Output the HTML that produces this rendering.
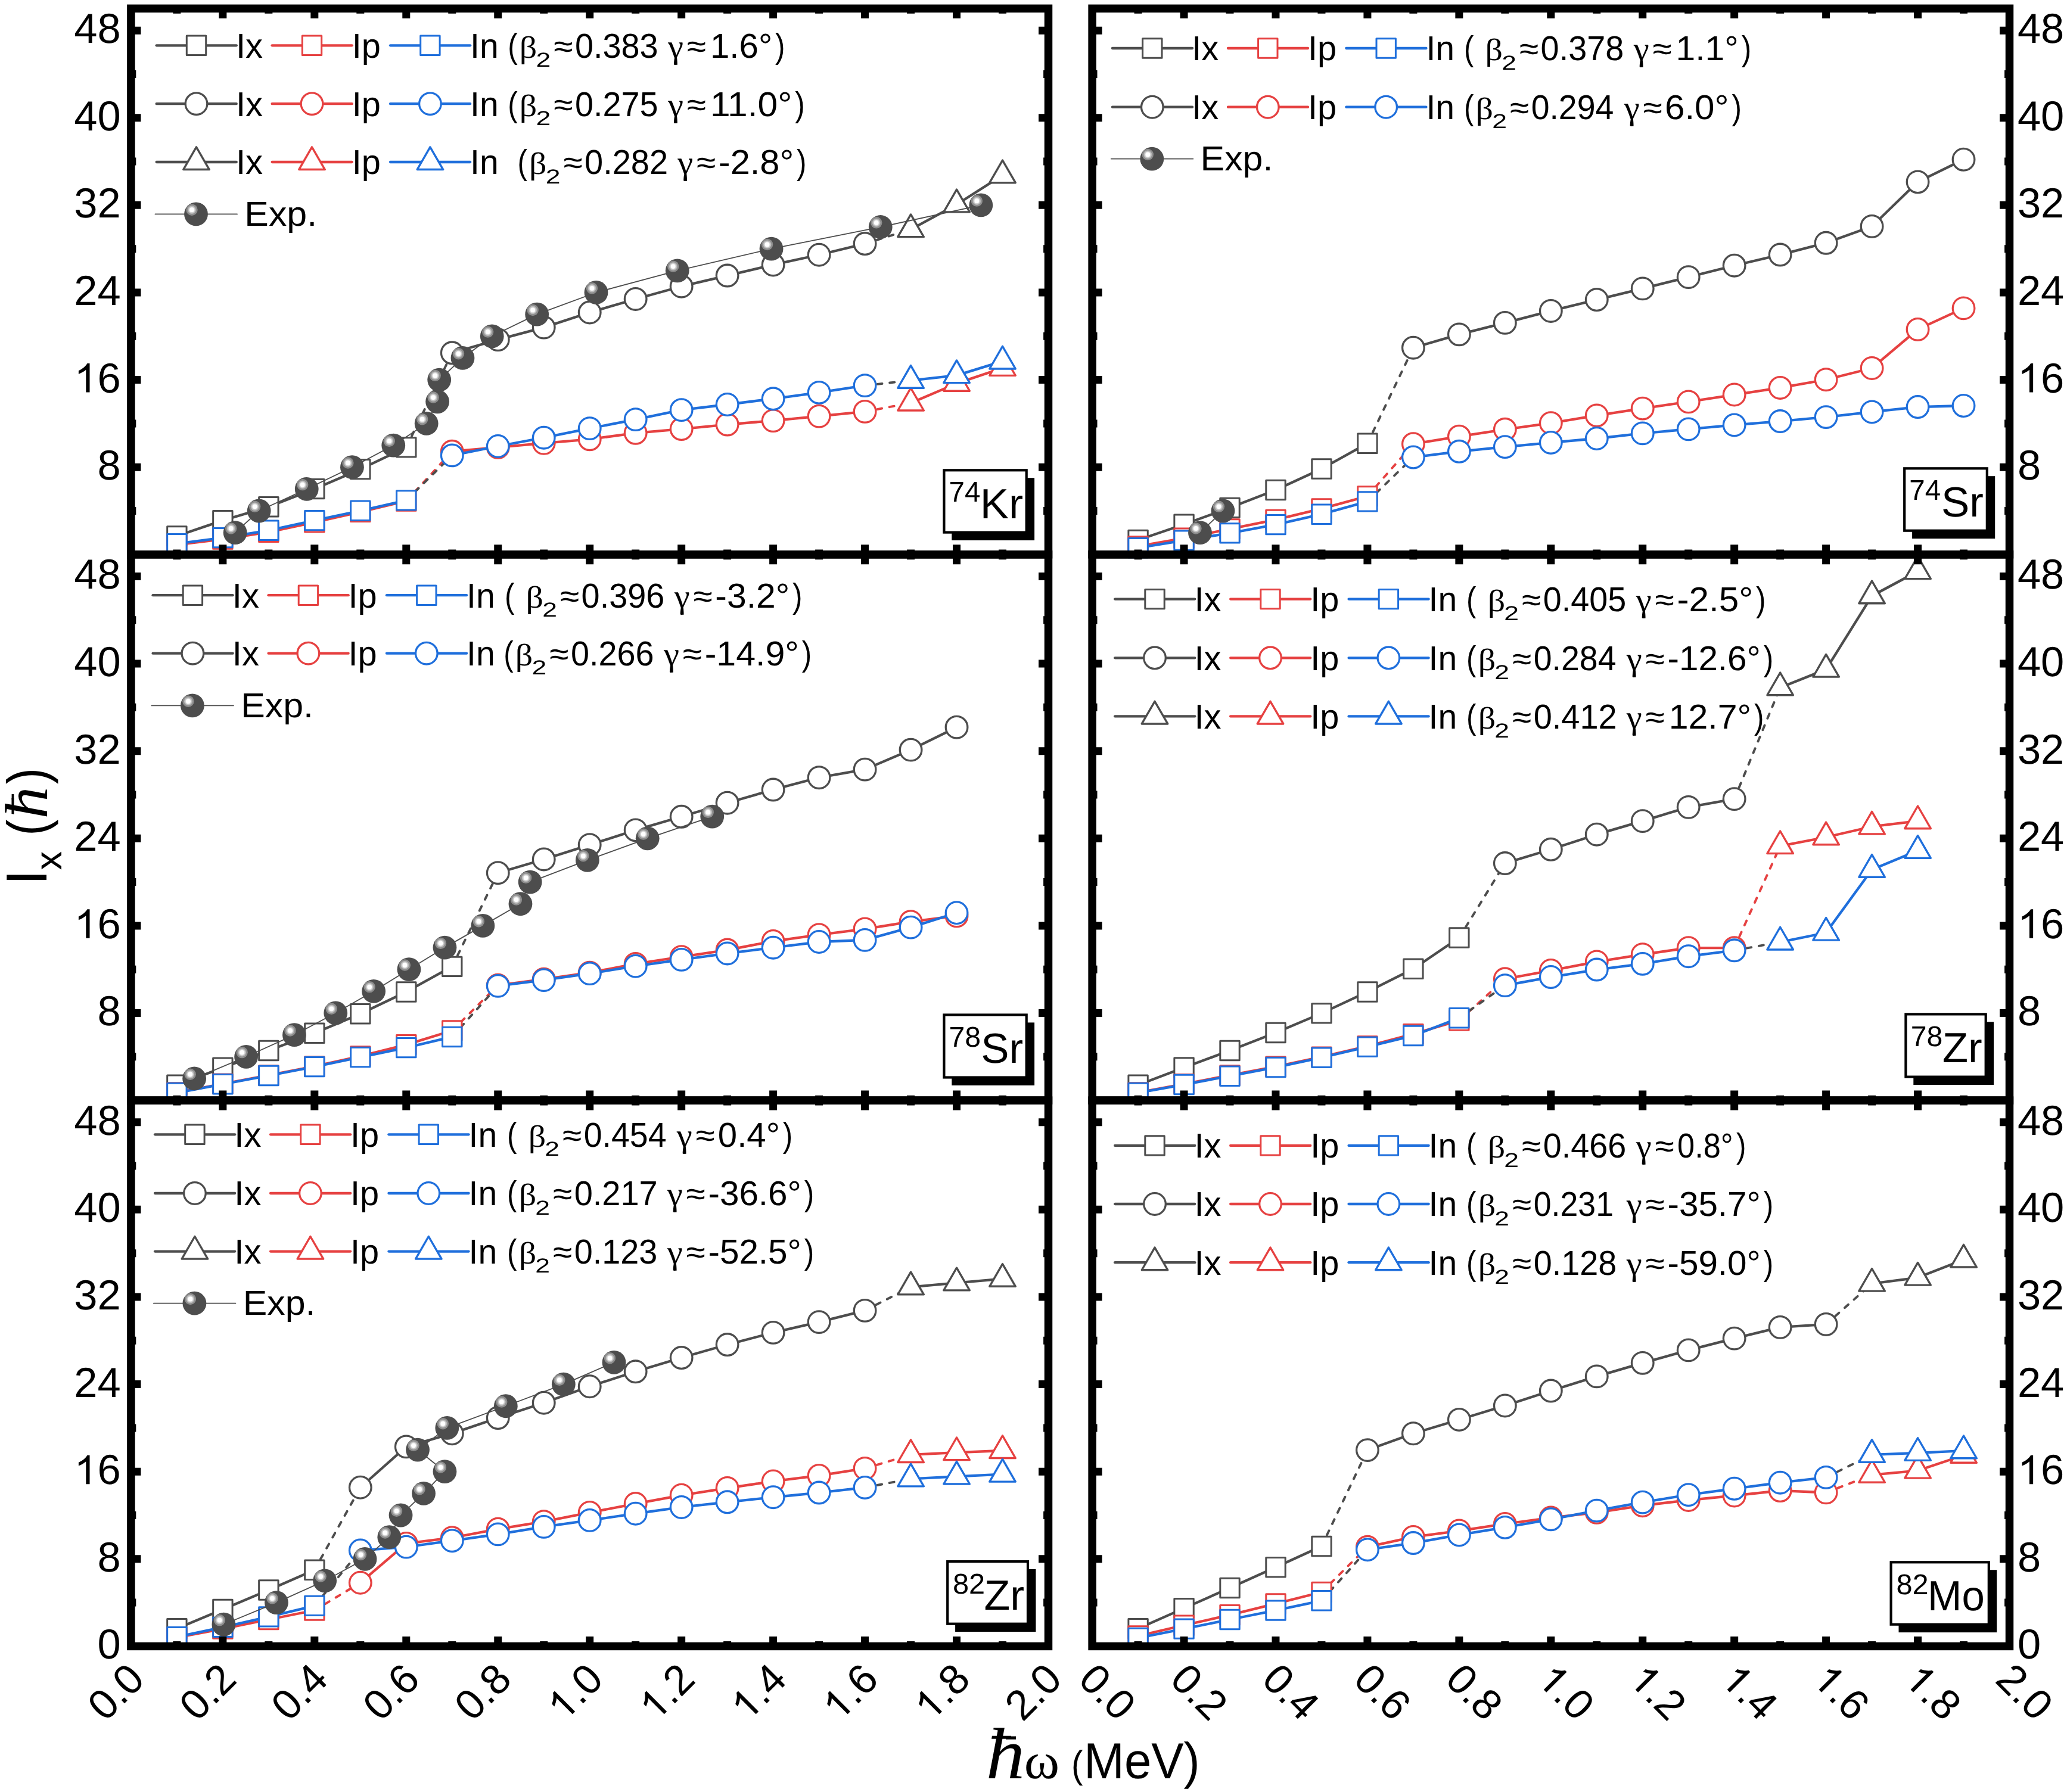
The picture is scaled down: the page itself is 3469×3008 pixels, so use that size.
<!DOCTYPE html>
<html><head><meta charset="utf-8"><title>Ix vs rotational frequency</title>
<style>html,body{margin:0;padding:0;background:#fff}svg{display:block;will-change:transform}text{font-family:"Liberation Sans",sans-serif;fill:#000;text-rendering:geometricPrecision}.se{font-family:"Liberation Serif",serif}</style></head><body>
<svg width="3469" height="3008" viewBox="0 0 3469 3008">
<rect width="3469" height="3008" fill="#fff"/>
<defs><g id="ball"><circle r="19.9" fill="#4d4d4d"/><circle cx="-7" cy="-7.2" r="9.7" fill="#8e8e8e"/><circle cx="-7" cy="-7.2" r="6.9" fill="#b9b9b9"/><circle cx="-7" cy="-7.2" r="5.3" fill="#d6d6d6"/><circle cx="-7" cy="-7.2" r="3.9" fill="#fff"/></g><path id="one0" d="M763 0L583 0L583 -1098Q518 -1039 412.5 -979Q307 -920 223 -890L223 -1057Q374 -1125 487 -1221Q600 -1318 647 -1409L763 -1409Z"/></defs>
<g id="series-74Kr">
<path d="M681.78 750.84L758.76 592.32" fill="none" stroke="#4d4d4d" stroke-width="3.9" stroke-linecap="round" stroke-linejoin="round" stroke-dasharray="8.2 12.7"/>
<path d="M681.78 841L758.76 757.8" fill="none" stroke="#e64141" stroke-width="3.9" stroke-linecap="round" stroke-linejoin="round" stroke-dasharray="8.2 12.7"/>
<path d="M681.78 839.9L758.76 764.4" fill="none" stroke="#4d4d4d" stroke-width="3.9" stroke-linecap="round" stroke-linejoin="round" stroke-dasharray="8.2 12.7"/>
<path d="M1451.58 409.06L1528.56 385.05" fill="none" stroke="#4d4d4d" stroke-width="3.9" stroke-linecap="round" stroke-linejoin="round" stroke-dasharray="8.2 12.7"/>
<path d="M1451.58 690.91L1528.56 676.44" fill="none" stroke="#e64141" stroke-width="3.9" stroke-linecap="round" stroke-linejoin="round" stroke-dasharray="8.2 12.7"/>
<path d="M1451.58 647.11L1528.56 638.68" fill="none" stroke="#4d4d4d" stroke-width="3.9" stroke-linecap="round" stroke-linejoin="round" stroke-dasharray="8.2 12.7"/>
<path d="M296.88 899.83L373.86 873.62L450.84 850.72L527.82 820.66L604.8 787.67L681.78 750.84" fill="none" stroke="#4d4d4d" stroke-width="4.3" stroke-linecap="round" stroke-linejoin="round"/>
<rect x="280.68" y="883.63" width="32.4" height="32.4" fill="#fff" stroke="#4d4d4d" stroke-width="3" stroke-linejoin="round"/><rect x="357.66" y="857.42" width="32.4" height="32.4" fill="#fff" stroke="#4d4d4d" stroke-width="3" stroke-linejoin="round"/><rect x="434.64" y="834.52" width="32.4" height="32.4" fill="#fff" stroke="#4d4d4d" stroke-width="3" stroke-linejoin="round"/><rect x="511.62" y="804.46" width="32.4" height="32.4" fill="#fff" stroke="#4d4d4d" stroke-width="3" stroke-linejoin="round"/><rect x="588.6" y="771.47" width="32.4" height="32.4" fill="#fff" stroke="#4d4d4d" stroke-width="3" stroke-linejoin="round"/><rect x="665.58" y="734.64" width="32.4" height="32.4" fill="#fff" stroke="#4d4d4d" stroke-width="3" stroke-linejoin="round"/>
<path d="M296.88 914.31L373.86 905.14L450.84 893.23L527.82 876.74L604.8 859.33L681.78 841" fill="none" stroke="#e64141" stroke-width="4.3" stroke-linecap="round" stroke-linejoin="round"/>
<rect x="280.68" y="898.11" width="32.4" height="32.4" fill="#fff" stroke="#e64141" stroke-width="3" stroke-linejoin="round"/><rect x="357.66" y="888.94" width="32.4" height="32.4" fill="#fff" stroke="#e64141" stroke-width="3" stroke-linejoin="round"/><rect x="434.64" y="877.03" width="32.4" height="32.4" fill="#fff" stroke="#e64141" stroke-width="3" stroke-linejoin="round"/><rect x="511.62" y="860.54" width="32.4" height="32.4" fill="#fff" stroke="#e64141" stroke-width="3" stroke-linejoin="round"/><rect x="588.6" y="843.13" width="32.4" height="32.4" fill="#fff" stroke="#e64141" stroke-width="3" stroke-linejoin="round"/><rect x="665.58" y="824.8" width="32.4" height="32.4" fill="#fff" stroke="#e64141" stroke-width="3" stroke-linejoin="round"/>
<path d="M296.88 912.66L373.86 902.58L450.84 890.3L527.82 873.62L604.8 857.31L681.78 839.9" fill="none" stroke="#1f6fdc" stroke-width="4.3" stroke-linecap="round" stroke-linejoin="round"/>
<rect x="280.68" y="896.46" width="32.4" height="32.4" fill="#fff" stroke="#1f6fdc" stroke-width="3" stroke-linejoin="round"/><rect x="357.66" y="886.38" width="32.4" height="32.4" fill="#fff" stroke="#1f6fdc" stroke-width="3" stroke-linejoin="round"/><rect x="434.64" y="874.1" width="32.4" height="32.4" fill="#fff" stroke="#1f6fdc" stroke-width="3" stroke-linejoin="round"/><rect x="511.62" y="857.42" width="32.4" height="32.4" fill="#fff" stroke="#1f6fdc" stroke-width="3" stroke-linejoin="round"/><rect x="588.6" y="841.11" width="32.4" height="32.4" fill="#fff" stroke="#1f6fdc" stroke-width="3" stroke-linejoin="round"/><rect x="665.58" y="823.7" width="32.4" height="32.4" fill="#fff" stroke="#1f6fdc" stroke-width="3" stroke-linejoin="round"/>
<path d="M758.76 592.32L835.74 570.14L912.72 549.62L989.7 524.51L1066.68 501.97L1143.66 480.71L1220.64 462.57L1297.62 444.43L1374.6 427.75L1451.58 409.06" fill="none" stroke="#4d4d4d" stroke-width="4.3" stroke-linecap="round" stroke-linejoin="round"/>
<circle cx="758.76" cy="592.32" r="18.3" fill="#fff" stroke="#4d4d4d" stroke-width="3.3"/><circle cx="835.74" cy="570.14" r="18.3" fill="#fff" stroke="#4d4d4d" stroke-width="3.3"/><circle cx="912.72" cy="549.62" r="18.3" fill="#fff" stroke="#4d4d4d" stroke-width="3.3"/><circle cx="989.7" cy="524.51" r="18.3" fill="#fff" stroke="#4d4d4d" stroke-width="3.3"/><circle cx="1066.68" cy="501.97" r="18.3" fill="#fff" stroke="#4d4d4d" stroke-width="3.3"/><circle cx="1143.66" cy="480.71" r="18.3" fill="#fff" stroke="#4d4d4d" stroke-width="3.3"/><circle cx="1220.64" cy="462.57" r="18.3" fill="#fff" stroke="#4d4d4d" stroke-width="3.3"/><circle cx="1297.62" cy="444.43" r="18.3" fill="#fff" stroke="#4d4d4d" stroke-width="3.3"/><circle cx="1374.6" cy="427.75" r="18.3" fill="#fff" stroke="#4d4d4d" stroke-width="3.3"/><circle cx="1451.58" cy="409.06" r="18.3" fill="#fff" stroke="#4d4d4d" stroke-width="3.3"/>
<path d="M758.76 757.8L835.74 750.84L912.72 743.87L989.7 737.28L1066.68 726.83L1143.66 720.05L1220.64 712.54L1297.62 706.12L1374.6 698.61L1451.58 690.91" fill="none" stroke="#e64141" stroke-width="4.3" stroke-linecap="round" stroke-linejoin="round"/>
<circle cx="758.76" cy="757.8" r="18.3" fill="#fff" stroke="#e64141" stroke-width="3.3"/><circle cx="835.74" cy="750.84" r="18.3" fill="#fff" stroke="#e64141" stroke-width="3.3"/><circle cx="912.72" cy="743.87" r="18.3" fill="#fff" stroke="#e64141" stroke-width="3.3"/><circle cx="989.7" cy="737.28" r="18.3" fill="#fff" stroke="#e64141" stroke-width="3.3"/><circle cx="1066.68" cy="726.83" r="18.3" fill="#fff" stroke="#e64141" stroke-width="3.3"/><circle cx="1143.66" cy="720.05" r="18.3" fill="#fff" stroke="#e64141" stroke-width="3.3"/><circle cx="1220.64" cy="712.54" r="18.3" fill="#fff" stroke="#e64141" stroke-width="3.3"/><circle cx="1297.62" cy="706.12" r="18.3" fill="#fff" stroke="#e64141" stroke-width="3.3"/><circle cx="1374.6" cy="698.61" r="18.3" fill="#fff" stroke="#e64141" stroke-width="3.3"/><circle cx="1451.58" cy="690.91" r="18.3" fill="#fff" stroke="#e64141" stroke-width="3.3"/>
<path d="M758.76 764.4L835.74 749.01L912.72 734.71L989.7 719.13L1066.68 704.11L1143.66 688.16L1220.64 679L1297.62 669.29L1374.6 658.84L1451.58 647.11" fill="none" stroke="#1f6fdc" stroke-width="4.3" stroke-linecap="round" stroke-linejoin="round"/>
<circle cx="758.76" cy="764.4" r="18.3" fill="#fff" stroke="#1f6fdc" stroke-width="3.3"/><circle cx="835.74" cy="749.01" r="18.3" fill="#fff" stroke="#1f6fdc" stroke-width="3.3"/><circle cx="912.72" cy="734.71" r="18.3" fill="#fff" stroke="#1f6fdc" stroke-width="3.3"/><circle cx="989.7" cy="719.13" r="18.3" fill="#fff" stroke="#1f6fdc" stroke-width="3.3"/><circle cx="1066.68" cy="704.11" r="18.3" fill="#fff" stroke="#1f6fdc" stroke-width="3.3"/><circle cx="1143.66" cy="688.16" r="18.3" fill="#fff" stroke="#1f6fdc" stroke-width="3.3"/><circle cx="1220.64" cy="679" r="18.3" fill="#fff" stroke="#1f6fdc" stroke-width="3.3"/><circle cx="1297.62" cy="669.29" r="18.3" fill="#fff" stroke="#1f6fdc" stroke-width="3.3"/><circle cx="1374.6" cy="658.84" r="18.3" fill="#fff" stroke="#1f6fdc" stroke-width="3.3"/><circle cx="1451.58" cy="647.11" r="18.3" fill="#fff" stroke="#1f6fdc" stroke-width="3.3"/>
<path d="M1528.56 385.05L1605.54 343.27L1682.52 294.15" fill="none" stroke="#4d4d4d" stroke-width="4.3" stroke-linecap="round" stroke-linejoin="round"/>
<path d="M1528.56 359.94L1550.31 397.61L1506.81 397.61Z" fill="#fff" stroke="#4d4d4d" stroke-width="3.4" stroke-linejoin="round"/><path d="M1605.54 318.15L1627.29 355.83L1583.79 355.83Z" fill="#fff" stroke="#4d4d4d" stroke-width="3.4" stroke-linejoin="round"/><path d="M1682.52 269.04L1704.27 306.71L1660.77 306.71Z" fill="#fff" stroke="#4d4d4d" stroke-width="3.4" stroke-linejoin="round"/>
<path d="M1528.56 676.44L1605.54 643.63L1682.52 617.79" fill="none" stroke="#e64141" stroke-width="4.3" stroke-linecap="round" stroke-linejoin="round"/>
<path d="M1528.56 651.32L1550.31 688.99L1506.81 688.99Z" fill="#fff" stroke="#e64141" stroke-width="3.4" stroke-linejoin="round"/><path d="M1605.54 618.52L1627.29 656.19L1583.79 656.19Z" fill="#fff" stroke="#e64141" stroke-width="3.4" stroke-linejoin="round"/><path d="M1682.52 592.68L1704.27 630.35L1660.77 630.35Z" fill="#fff" stroke="#e64141" stroke-width="3.4" stroke-linejoin="round"/>
<path d="M1528.56 638.68L1605.54 630.07L1682.52 606.43" fill="none" stroke="#1f6fdc" stroke-width="4.3" stroke-linecap="round" stroke-linejoin="round"/>
<path d="M1528.56 613.57L1550.31 651.24L1506.81 651.24Z" fill="#fff" stroke="#1f6fdc" stroke-width="3.4" stroke-linejoin="round"/><path d="M1605.54 604.96L1627.29 642.63L1583.79 642.63Z" fill="#fff" stroke="#1f6fdc" stroke-width="3.4" stroke-linejoin="round"/><path d="M1682.52 581.32L1704.27 618.99L1660.77 618.99Z" fill="#fff" stroke="#1f6fdc" stroke-width="3.4" stroke-linejoin="round"/>
<path d="M394.64 894.15L434.67 857.5L514.73 820.84L590.94 784.19L660.23 747.54L715.65 710.89L734.13 674.24L737.21 637.58L776.47 600.93L825.73 564.28L901.17 527.63L1000.48 490.98L1136.73 454.32L1294.54 417.67L1477.75 381.02L1646.34 344.37" fill="none" stroke="#4d4d4d" stroke-width="1.8" stroke-linecap="round" stroke-linejoin="round"/>
<use href="#ball" x="394.64" y="894.15"/><use href="#ball" x="434.67" y="857.5"/><use href="#ball" x="514.73" y="820.84"/><use href="#ball" x="590.94" y="784.19"/><use href="#ball" x="660.23" y="747.54"/><use href="#ball" x="715.65" y="710.89"/><use href="#ball" x="734.13" y="674.24"/><use href="#ball" x="737.21" y="637.58"/><use href="#ball" x="776.47" y="600.93"/><use href="#ball" x="825.73" y="564.28"/><use href="#ball" x="901.17" y="527.63"/><use href="#ball" x="1000.48" y="490.98"/><use href="#ball" x="1136.73" y="454.32"/><use href="#ball" x="1294.54" y="417.67"/><use href="#ball" x="1477.75" y="381.02"/><use href="#ball" x="1646.34" y="344.37"/>
</g>
<g id="series-74Sr">
<path d="M2294.92 744.24L2371.89 583.71" fill="none" stroke="#4d4d4d" stroke-width="3.9" stroke-linecap="round" stroke-linejoin="round" stroke-dasharray="8.2 12.7"/>
<path d="M2294.92 832.94L2371.89 745.16" fill="none" stroke="#e64141" stroke-width="3.9" stroke-linecap="round" stroke-linejoin="round" stroke-dasharray="8.2 12.7"/>
<path d="M2294.92 841.92L2371.89 767.52" fill="none" stroke="#4d4d4d" stroke-width="3.9" stroke-linecap="round" stroke-linejoin="round" stroke-dasharray="8.2 12.7"/>
<path d="M1910.07 906.43L1987.04 880.22L2064.01 852.36L2140.98 822.49L2217.95 786.94L2294.92 744.24" fill="none" stroke="#4d4d4d" stroke-width="4.3" stroke-linecap="round" stroke-linejoin="round"/>
<rect x="1893.87" y="890.23" width="32.4" height="32.4" fill="#fff" stroke="#4d4d4d" stroke-width="3" stroke-linejoin="round"/><rect x="1970.84" y="864.02" width="32.4" height="32.4" fill="#fff" stroke="#4d4d4d" stroke-width="3" stroke-linejoin="round"/><rect x="2047.81" y="836.16" width="32.4" height="32.4" fill="#fff" stroke="#4d4d4d" stroke-width="3" stroke-linejoin="round"/><rect x="2124.78" y="806.29" width="32.4" height="32.4" fill="#fff" stroke="#4d4d4d" stroke-width="3" stroke-linejoin="round"/><rect x="2201.75" y="770.74" width="32.4" height="32.4" fill="#fff" stroke="#4d4d4d" stroke-width="3" stroke-linejoin="round"/><rect x="2278.72" y="728.04" width="32.4" height="32.4" fill="#fff" stroke="#4d4d4d" stroke-width="3" stroke-linejoin="round"/>
<path d="M1910.07 916.87L1987.04 903.31L2064.01 887.92L2140.98 872.34L2217.95 853.83L2294.92 832.94" fill="none" stroke="#e64141" stroke-width="4.3" stroke-linecap="round" stroke-linejoin="round"/>
<rect x="1893.87" y="900.67" width="32.4" height="32.4" fill="#fff" stroke="#e64141" stroke-width="3" stroke-linejoin="round"/><rect x="1970.84" y="887.11" width="32.4" height="32.4" fill="#fff" stroke="#e64141" stroke-width="3" stroke-linejoin="round"/><rect x="2047.81" y="871.72" width="32.4" height="32.4" fill="#fff" stroke="#e64141" stroke-width="3" stroke-linejoin="round"/><rect x="2124.78" y="856.14" width="32.4" height="32.4" fill="#fff" stroke="#e64141" stroke-width="3" stroke-linejoin="round"/><rect x="2201.75" y="837.63" width="32.4" height="32.4" fill="#fff" stroke="#e64141" stroke-width="3" stroke-linejoin="round"/><rect x="2278.72" y="816.74" width="32.4" height="32.4" fill="#fff" stroke="#e64141" stroke-width="3" stroke-linejoin="round"/>
<path d="M1910.07 919.62L1987.04 907.16L2064.01 894.88L2140.98 880.59L2217.95 863.18L2294.92 841.92" fill="none" stroke="#1f6fdc" stroke-width="4.3" stroke-linecap="round" stroke-linejoin="round"/>
<rect x="1893.87" y="903.42" width="32.4" height="32.4" fill="#fff" stroke="#1f6fdc" stroke-width="3" stroke-linejoin="round"/><rect x="1970.84" y="890.96" width="32.4" height="32.4" fill="#fff" stroke="#1f6fdc" stroke-width="3" stroke-linejoin="round"/><rect x="2047.81" y="878.68" width="32.4" height="32.4" fill="#fff" stroke="#1f6fdc" stroke-width="3" stroke-linejoin="round"/><rect x="2124.78" y="864.39" width="32.4" height="32.4" fill="#fff" stroke="#1f6fdc" stroke-width="3" stroke-linejoin="round"/><rect x="2201.75" y="846.98" width="32.4" height="32.4" fill="#fff" stroke="#1f6fdc" stroke-width="3" stroke-linejoin="round"/><rect x="2278.72" y="825.72" width="32.4" height="32.4" fill="#fff" stroke="#1f6fdc" stroke-width="3" stroke-linejoin="round"/>
<path d="M2371.89 583.71L2448.86 561.35L2525.83 541.92L2602.8 521.95L2679.77 503.07L2756.74 484.38L2833.71 465.14L2910.68 445.71L2987.65 427.57L3064.62 407.78L3141.59 379.92L3218.56 305.33L3295.53 267.77" fill="none" stroke="#4d4d4d" stroke-width="4.3" stroke-linecap="round" stroke-linejoin="round"/>
<circle cx="2371.89" cy="583.71" r="18.3" fill="#fff" stroke="#4d4d4d" stroke-width="3.3"/><circle cx="2448.86" cy="561.35" r="18.3" fill="#fff" stroke="#4d4d4d" stroke-width="3.3"/><circle cx="2525.83" cy="541.92" r="18.3" fill="#fff" stroke="#4d4d4d" stroke-width="3.3"/><circle cx="2602.8" cy="521.95" r="18.3" fill="#fff" stroke="#4d4d4d" stroke-width="3.3"/><circle cx="2679.77" cy="503.07" r="18.3" fill="#fff" stroke="#4d4d4d" stroke-width="3.3"/><circle cx="2756.74" cy="484.38" r="18.3" fill="#fff" stroke="#4d4d4d" stroke-width="3.3"/><circle cx="2833.71" cy="465.14" r="18.3" fill="#fff" stroke="#4d4d4d" stroke-width="3.3"/><circle cx="2910.68" cy="445.71" r="18.3" fill="#fff" stroke="#4d4d4d" stroke-width="3.3"/><circle cx="2987.65" cy="427.57" r="18.3" fill="#fff" stroke="#4d4d4d" stroke-width="3.3"/><circle cx="3064.62" cy="407.78" r="18.3" fill="#fff" stroke="#4d4d4d" stroke-width="3.3"/><circle cx="3141.59" cy="379.92" r="18.3" fill="#fff" stroke="#4d4d4d" stroke-width="3.3"/><circle cx="3218.56" cy="305.33" r="18.3" fill="#fff" stroke="#4d4d4d" stroke-width="3.3"/><circle cx="3295.53" cy="267.77" r="18.3" fill="#fff" stroke="#4d4d4d" stroke-width="3.3"/>
<path d="M2371.89 745.16L2448.86 732.7L2525.83 720.78L2602.8 710.15L2679.77 697.33L2756.74 685.6L2833.71 674.42L2910.68 662.51L2987.65 650.96L3064.62 637.22L3141.59 617.98L3218.56 552.92L3295.53 517.37" fill="none" stroke="#e64141" stroke-width="4.3" stroke-linecap="round" stroke-linejoin="round"/>
<circle cx="2371.89" cy="745.16" r="18.3" fill="#fff" stroke="#e64141" stroke-width="3.3"/><circle cx="2448.86" cy="732.7" r="18.3" fill="#fff" stroke="#e64141" stroke-width="3.3"/><circle cx="2525.83" cy="720.78" r="18.3" fill="#fff" stroke="#e64141" stroke-width="3.3"/><circle cx="2602.8" cy="710.15" r="18.3" fill="#fff" stroke="#e64141" stroke-width="3.3"/><circle cx="2679.77" cy="697.33" r="18.3" fill="#fff" stroke="#e64141" stroke-width="3.3"/><circle cx="2756.74" cy="685.6" r="18.3" fill="#fff" stroke="#e64141" stroke-width="3.3"/><circle cx="2833.71" cy="674.42" r="18.3" fill="#fff" stroke="#e64141" stroke-width="3.3"/><circle cx="2910.68" cy="662.51" r="18.3" fill="#fff" stroke="#e64141" stroke-width="3.3"/><circle cx="2987.65" cy="650.96" r="18.3" fill="#fff" stroke="#e64141" stroke-width="3.3"/><circle cx="3064.62" cy="637.22" r="18.3" fill="#fff" stroke="#e64141" stroke-width="3.3"/><circle cx="3141.59" cy="617.98" r="18.3" fill="#fff" stroke="#e64141" stroke-width="3.3"/><circle cx="3218.56" cy="552.92" r="18.3" fill="#fff" stroke="#e64141" stroke-width="3.3"/><circle cx="3295.53" cy="517.37" r="18.3" fill="#fff" stroke="#e64141" stroke-width="3.3"/>
<path d="M2371.89 767.52L2448.86 757.8L2525.83 750.11L2602.8 742.96L2679.77 735.99L2756.74 727.38L2833.71 720.42L2910.68 713.45L2987.65 707.04L3064.62 700.08L3141.59 691.46L3218.56 683.03L3295.53 681.02" fill="none" stroke="#1f6fdc" stroke-width="4.3" stroke-linecap="round" stroke-linejoin="round"/>
<circle cx="2371.89" cy="767.52" r="18.3" fill="#fff" stroke="#1f6fdc" stroke-width="3.3"/><circle cx="2448.86" cy="757.8" r="18.3" fill="#fff" stroke="#1f6fdc" stroke-width="3.3"/><circle cx="2525.83" cy="750.11" r="18.3" fill="#fff" stroke="#1f6fdc" stroke-width="3.3"/><circle cx="2602.8" cy="742.96" r="18.3" fill="#fff" stroke="#1f6fdc" stroke-width="3.3"/><circle cx="2679.77" cy="735.99" r="18.3" fill="#fff" stroke="#1f6fdc" stroke-width="3.3"/><circle cx="2756.74" cy="727.38" r="18.3" fill="#fff" stroke="#1f6fdc" stroke-width="3.3"/><circle cx="2833.71" cy="720.42" r="18.3" fill="#fff" stroke="#1f6fdc" stroke-width="3.3"/><circle cx="2910.68" cy="713.45" r="18.3" fill="#fff" stroke="#1f6fdc" stroke-width="3.3"/><circle cx="2987.65" cy="707.04" r="18.3" fill="#fff" stroke="#1f6fdc" stroke-width="3.3"/><circle cx="3064.62" cy="700.08" r="18.3" fill="#fff" stroke="#1f6fdc" stroke-width="3.3"/><circle cx="3141.59" cy="691.46" r="18.3" fill="#fff" stroke="#1f6fdc" stroke-width="3.3"/><circle cx="3218.56" cy="683.03" r="18.3" fill="#fff" stroke="#1f6fdc" stroke-width="3.3"/><circle cx="3295.53" cy="681.02" r="18.3" fill="#fff" stroke="#1f6fdc" stroke-width="3.3"/>
<path d="M2013.98 894.15L2052.46 857.5" fill="none" stroke="#4d4d4d" stroke-width="1.8" stroke-linecap="round" stroke-linejoin="round"/>
<use href="#ball" x="2013.98" y="894.15"/><use href="#ball" x="2052.46" y="857.5"/>
</g>
<g id="series-78Sr">
<path d="M758.76 1622.42L835.74 1465.19" fill="none" stroke="#4d4d4d" stroke-width="3.9" stroke-linecap="round" stroke-linejoin="round" stroke-dasharray="8.2 12.7"/>
<path d="M758.76 1730L835.74 1653.76" fill="none" stroke="#e64141" stroke-width="3.9" stroke-linecap="round" stroke-linejoin="round" stroke-dasharray="8.2 12.7"/>
<path d="M758.76 1740.44L835.74 1654.86" fill="none" stroke="#4d4d4d" stroke-width="3.9" stroke-linecap="round" stroke-linejoin="round" stroke-dasharray="8.2 12.7"/>
<path d="M296.88 1821.26L373.86 1792.31L450.84 1763.53L527.82 1734.21L604.8 1701.77L681.78 1664.94L758.76 1622.42" fill="none" stroke="#4d4d4d" stroke-width="4.3" stroke-linecap="round" stroke-linejoin="round"/>
<rect x="280.68" y="1805.06" width="32.4" height="32.4" fill="#fff" stroke="#4d4d4d" stroke-width="3" stroke-linejoin="round"/><rect x="357.66" y="1776.11" width="32.4" height="32.4" fill="#fff" stroke="#4d4d4d" stroke-width="3" stroke-linejoin="round"/><rect x="434.64" y="1747.33" width="32.4" height="32.4" fill="#fff" stroke="#4d4d4d" stroke-width="3" stroke-linejoin="round"/><rect x="511.62" y="1718.01" width="32.4" height="32.4" fill="#fff" stroke="#4d4d4d" stroke-width="3" stroke-linejoin="round"/><rect x="588.6" y="1685.57" width="32.4" height="32.4" fill="#fff" stroke="#4d4d4d" stroke-width="3" stroke-linejoin="round"/><rect x="665.58" y="1648.74" width="32.4" height="32.4" fill="#fff" stroke="#4d4d4d" stroke-width="3" stroke-linejoin="round"/><rect x="742.56" y="1606.22" width="32.4" height="32.4" fill="#fff" stroke="#4d4d4d" stroke-width="3" stroke-linejoin="round"/>
<path d="M296.88 1833.91L373.86 1819.24L450.84 1804.95L527.82 1789.92L604.8 1772.88L681.78 1753.64L758.76 1730" fill="none" stroke="#e64141" stroke-width="4.3" stroke-linecap="round" stroke-linejoin="round"/>
<rect x="280.68" y="1817.71" width="32.4" height="32.4" fill="#fff" stroke="#e64141" stroke-width="3" stroke-linejoin="round"/><rect x="357.66" y="1803.04" width="32.4" height="32.4" fill="#fff" stroke="#e64141" stroke-width="3" stroke-linejoin="round"/><rect x="434.64" y="1788.75" width="32.4" height="32.4" fill="#fff" stroke="#e64141" stroke-width="3" stroke-linejoin="round"/><rect x="511.62" y="1773.72" width="32.4" height="32.4" fill="#fff" stroke="#e64141" stroke-width="3" stroke-linejoin="round"/><rect x="588.6" y="1756.68" width="32.4" height="32.4" fill="#fff" stroke="#e64141" stroke-width="3" stroke-linejoin="round"/><rect x="665.58" y="1737.44" width="32.4" height="32.4" fill="#fff" stroke="#e64141" stroke-width="3" stroke-linejoin="round"/><rect x="742.56" y="1713.8" width="32.4" height="32.4" fill="#fff" stroke="#e64141" stroke-width="3" stroke-linejoin="round"/>
<path d="M296.88 1834.46L373.86 1819.79L450.84 1805.5L527.82 1790.66L604.8 1774.53L681.78 1758.59L758.76 1740.44" fill="none" stroke="#1f6fdc" stroke-width="4.3" stroke-linecap="round" stroke-linejoin="round"/>
<rect x="280.68" y="1818.26" width="32.4" height="32.4" fill="#fff" stroke="#1f6fdc" stroke-width="3" stroke-linejoin="round"/><rect x="357.66" y="1803.59" width="32.4" height="32.4" fill="#fff" stroke="#1f6fdc" stroke-width="3" stroke-linejoin="round"/><rect x="434.64" y="1789.3" width="32.4" height="32.4" fill="#fff" stroke="#1f6fdc" stroke-width="3" stroke-linejoin="round"/><rect x="511.62" y="1774.46" width="32.4" height="32.4" fill="#fff" stroke="#1f6fdc" stroke-width="3" stroke-linejoin="round"/><rect x="588.6" y="1758.33" width="32.4" height="32.4" fill="#fff" stroke="#1f6fdc" stroke-width="3" stroke-linejoin="round"/><rect x="665.58" y="1742.39" width="32.4" height="32.4" fill="#fff" stroke="#1f6fdc" stroke-width="3" stroke-linejoin="round"/><rect x="742.56" y="1724.24" width="32.4" height="32.4" fill="#fff" stroke="#1f6fdc" stroke-width="3" stroke-linejoin="round"/>
<path d="M835.74 1465.19L912.72 1442.46L989.7 1418.09L1066.68 1393.35L1143.66 1370.81L1220.64 1347.72L1297.62 1325.54L1374.6 1305.2L1451.58 1291.64L1528.56 1258.65L1605.54 1220.72" fill="none" stroke="#4d4d4d" stroke-width="4.3" stroke-linecap="round" stroke-linejoin="round"/>
<circle cx="835.74" cy="1465.19" r="18.3" fill="#fff" stroke="#4d4d4d" stroke-width="3.3"/><circle cx="912.72" cy="1442.46" r="18.3" fill="#fff" stroke="#4d4d4d" stroke-width="3.3"/><circle cx="989.7" cy="1418.09" r="18.3" fill="#fff" stroke="#4d4d4d" stroke-width="3.3"/><circle cx="1066.68" cy="1393.35" r="18.3" fill="#fff" stroke="#4d4d4d" stroke-width="3.3"/><circle cx="1143.66" cy="1370.81" r="18.3" fill="#fff" stroke="#4d4d4d" stroke-width="3.3"/><circle cx="1220.64" cy="1347.72" r="18.3" fill="#fff" stroke="#4d4d4d" stroke-width="3.3"/><circle cx="1297.62" cy="1325.54" r="18.3" fill="#fff" stroke="#4d4d4d" stroke-width="3.3"/><circle cx="1374.6" cy="1305.2" r="18.3" fill="#fff" stroke="#4d4d4d" stroke-width="3.3"/><circle cx="1451.58" cy="1291.64" r="18.3" fill="#fff" stroke="#4d4d4d" stroke-width="3.3"/><circle cx="1528.56" cy="1258.65" r="18.3" fill="#fff" stroke="#4d4d4d" stroke-width="3.3"/><circle cx="1605.54" cy="1220.72" r="18.3" fill="#fff" stroke="#4d4d4d" stroke-width="3.3"/>
<path d="M835.74 1653.76L912.72 1643.68L989.7 1632.69L1066.68 1617.84L1143.66 1606.11L1220.64 1594.57L1297.62 1579.91L1374.6 1569.09L1451.58 1559.38L1528.56 1547.1L1605.54 1537.39" fill="none" stroke="#e64141" stroke-width="4.3" stroke-linecap="round" stroke-linejoin="round"/>
<circle cx="835.74" cy="1653.76" r="18.3" fill="#fff" stroke="#e64141" stroke-width="3.3"/><circle cx="912.72" cy="1643.68" r="18.3" fill="#fff" stroke="#e64141" stroke-width="3.3"/><circle cx="989.7" cy="1632.69" r="18.3" fill="#fff" stroke="#e64141" stroke-width="3.3"/><circle cx="1066.68" cy="1617.84" r="18.3" fill="#fff" stroke="#e64141" stroke-width="3.3"/><circle cx="1143.66" cy="1606.11" r="18.3" fill="#fff" stroke="#e64141" stroke-width="3.3"/><circle cx="1220.64" cy="1594.57" r="18.3" fill="#fff" stroke="#e64141" stroke-width="3.3"/><circle cx="1297.62" cy="1579.91" r="18.3" fill="#fff" stroke="#e64141" stroke-width="3.3"/><circle cx="1374.6" cy="1569.09" r="18.3" fill="#fff" stroke="#e64141" stroke-width="3.3"/><circle cx="1451.58" cy="1559.38" r="18.3" fill="#fff" stroke="#e64141" stroke-width="3.3"/><circle cx="1528.56" cy="1547.1" r="18.3" fill="#fff" stroke="#e64141" stroke-width="3.3"/><circle cx="1605.54" cy="1537.39" r="18.3" fill="#fff" stroke="#e64141" stroke-width="3.3"/>
<path d="M835.74 1654.86L912.72 1645.15L989.7 1634.15L1066.68 1621.69L1143.66 1610.88L1220.64 1600.43L1297.62 1590.72L1374.6 1581.01L1451.58 1577.89L1528.56 1556.63L1605.54 1532.26" fill="none" stroke="#1f6fdc" stroke-width="4.3" stroke-linecap="round" stroke-linejoin="round"/>
<circle cx="835.74" cy="1654.86" r="18.3" fill="#fff" stroke="#1f6fdc" stroke-width="3.3"/><circle cx="912.72" cy="1645.15" r="18.3" fill="#fff" stroke="#1f6fdc" stroke-width="3.3"/><circle cx="989.7" cy="1634.15" r="18.3" fill="#fff" stroke="#1f6fdc" stroke-width="3.3"/><circle cx="1066.68" cy="1621.69" r="18.3" fill="#fff" stroke="#1f6fdc" stroke-width="3.3"/><circle cx="1143.66" cy="1610.88" r="18.3" fill="#fff" stroke="#1f6fdc" stroke-width="3.3"/><circle cx="1220.64" cy="1600.43" r="18.3" fill="#fff" stroke="#1f6fdc" stroke-width="3.3"/><circle cx="1297.62" cy="1590.72" r="18.3" fill="#fff" stroke="#1f6fdc" stroke-width="3.3"/><circle cx="1374.6" cy="1581.01" r="18.3" fill="#fff" stroke="#1f6fdc" stroke-width="3.3"/><circle cx="1451.58" cy="1577.89" r="18.3" fill="#fff" stroke="#1f6fdc" stroke-width="3.3"/><circle cx="1528.56" cy="1556.63" r="18.3" fill="#fff" stroke="#1f6fdc" stroke-width="3.3"/><circle cx="1605.54" cy="1532.26" r="18.3" fill="#fff" stroke="#1f6fdc" stroke-width="3.3"/>
<path d="M326.13 1810.45L413.12 1773.8L493.95 1737.14L563.23 1700.49L627.12 1663.84L686.4 1627.19L746.44 1590.54L810.34 1553.88L873.46 1517.23L889.63 1480.58L985.85 1443.93L1086.69 1407.28L1195.24 1370.62" fill="none" stroke="#4d4d4d" stroke-width="1.8" stroke-linecap="round" stroke-linejoin="round"/>
<use href="#ball" x="326.13" y="1810.45"/><use href="#ball" x="413.12" y="1773.8"/><use href="#ball" x="493.95" y="1737.14"/><use href="#ball" x="563.23" y="1700.49"/><use href="#ball" x="627.12" y="1663.84"/><use href="#ball" x="686.4" y="1627.19"/><use href="#ball" x="746.44" y="1590.54"/><use href="#ball" x="810.34" y="1553.88"/><use href="#ball" x="873.46" y="1517.23"/><use href="#ball" x="889.63" y="1480.58"/><use href="#ball" x="985.85" y="1443.93"/><use href="#ball" x="1086.69" y="1407.28"/><use href="#ball" x="1195.24" y="1370.62"/>
</g>
<g id="series-78Zr">
<path d="M2448.86 1574.04L2525.83 1449.06" fill="none" stroke="#4d4d4d" stroke-width="3.9" stroke-linecap="round" stroke-linejoin="round" stroke-dasharray="8.2 12.7"/>
<path d="M2448.86 1712.95L2525.83 1643.31" fill="none" stroke="#e64141" stroke-width="3.9" stroke-linecap="round" stroke-linejoin="round" stroke-dasharray="8.2 12.7"/>
<path d="M2448.86 1708.74L2525.83 1654.13" fill="none" stroke="#4d4d4d" stroke-width="3.9" stroke-linecap="round" stroke-linejoin="round" stroke-dasharray="8.2 12.7"/>
<path d="M2910.68 1341.12L2987.65 1154.19" fill="none" stroke="#4d4d4d" stroke-width="3.9" stroke-linecap="round" stroke-linejoin="round" stroke-dasharray="8.2 12.7"/>
<path d="M2910.68 1591.09L2987.65 1420.1" fill="none" stroke="#e64141" stroke-width="3.9" stroke-linecap="round" stroke-linejoin="round" stroke-dasharray="8.2 12.7"/>
<path d="M2910.68 1595.3L2987.65 1581.37" fill="none" stroke="#4d4d4d" stroke-width="3.9" stroke-linecap="round" stroke-linejoin="round" stroke-dasharray="8.2 12.7"/>
<path d="M1910.07 1821.26L1987.04 1791.94L2064.01 1763.53L2140.98 1733.48L2217.95 1700.86L2294.92 1664.94L2371.89 1626.27L2448.86 1574.04" fill="none" stroke="#4d4d4d" stroke-width="4.3" stroke-linecap="round" stroke-linejoin="round"/>
<rect x="1893.87" y="1805.06" width="32.4" height="32.4" fill="#fff" stroke="#4d4d4d" stroke-width="3" stroke-linejoin="round"/><rect x="1970.84" y="1775.74" width="32.4" height="32.4" fill="#fff" stroke="#4d4d4d" stroke-width="3" stroke-linejoin="round"/><rect x="2047.81" y="1747.33" width="32.4" height="32.4" fill="#fff" stroke="#4d4d4d" stroke-width="3" stroke-linejoin="round"/><rect x="2124.78" y="1717.28" width="32.4" height="32.4" fill="#fff" stroke="#4d4d4d" stroke-width="3" stroke-linejoin="round"/><rect x="2201.75" y="1684.66" width="32.4" height="32.4" fill="#fff" stroke="#4d4d4d" stroke-width="3" stroke-linejoin="round"/><rect x="2278.72" y="1648.74" width="32.4" height="32.4" fill="#fff" stroke="#4d4d4d" stroke-width="3" stroke-linejoin="round"/><rect x="2355.69" y="1610.07" width="32.4" height="32.4" fill="#fff" stroke="#4d4d4d" stroke-width="3" stroke-linejoin="round"/><rect x="2432.66" y="1557.84" width="32.4" height="32.4" fill="#fff" stroke="#4d4d4d" stroke-width="3" stroke-linejoin="round"/>
<path d="M1910.07 1833.91L1987.04 1819.61L2064.01 1804.95L2140.98 1790.29L2217.95 1774.16L2294.92 1756.02L2371.89 1735.68L2448.86 1712.95" fill="none" stroke="#e64141" stroke-width="4.3" stroke-linecap="round" stroke-linejoin="round"/>
<rect x="1893.87" y="1817.71" width="32.4" height="32.4" fill="#fff" stroke="#e64141" stroke-width="3" stroke-linejoin="round"/><rect x="1970.84" y="1803.41" width="32.4" height="32.4" fill="#fff" stroke="#e64141" stroke-width="3" stroke-linejoin="round"/><rect x="2047.81" y="1788.75" width="32.4" height="32.4" fill="#fff" stroke="#e64141" stroke-width="3" stroke-linejoin="round"/><rect x="2124.78" y="1774.09" width="32.4" height="32.4" fill="#fff" stroke="#e64141" stroke-width="3" stroke-linejoin="round"/><rect x="2201.75" y="1757.96" width="32.4" height="32.4" fill="#fff" stroke="#e64141" stroke-width="3" stroke-linejoin="round"/><rect x="2278.72" y="1739.82" width="32.4" height="32.4" fill="#fff" stroke="#e64141" stroke-width="3" stroke-linejoin="round"/><rect x="2355.69" y="1719.48" width="32.4" height="32.4" fill="#fff" stroke="#e64141" stroke-width="3" stroke-linejoin="round"/><rect x="2432.66" y="1696.75" width="32.4" height="32.4" fill="#fff" stroke="#e64141" stroke-width="3" stroke-linejoin="round"/>
<path d="M1910.07 1834.46L1987.04 1820.53L2064.01 1806.23L2140.98 1791.57L2217.95 1775.26L2294.92 1757.12L2371.89 1738.43L2448.86 1708.74" fill="none" stroke="#1f6fdc" stroke-width="4.3" stroke-linecap="round" stroke-linejoin="round"/>
<rect x="1893.87" y="1818.26" width="32.4" height="32.4" fill="#fff" stroke="#1f6fdc" stroke-width="3" stroke-linejoin="round"/><rect x="1970.84" y="1804.33" width="32.4" height="32.4" fill="#fff" stroke="#1f6fdc" stroke-width="3" stroke-linejoin="round"/><rect x="2047.81" y="1790.03" width="32.4" height="32.4" fill="#fff" stroke="#1f6fdc" stroke-width="3" stroke-linejoin="round"/><rect x="2124.78" y="1775.37" width="32.4" height="32.4" fill="#fff" stroke="#1f6fdc" stroke-width="3" stroke-linejoin="round"/><rect x="2201.75" y="1759.06" width="32.4" height="32.4" fill="#fff" stroke="#1f6fdc" stroke-width="3" stroke-linejoin="round"/><rect x="2278.72" y="1740.92" width="32.4" height="32.4" fill="#fff" stroke="#1f6fdc" stroke-width="3" stroke-linejoin="round"/><rect x="2355.69" y="1722.23" width="32.4" height="32.4" fill="#fff" stroke="#1f6fdc" stroke-width="3" stroke-linejoin="round"/><rect x="2432.66" y="1692.54" width="32.4" height="32.4" fill="#fff" stroke="#1f6fdc" stroke-width="3" stroke-linejoin="round"/>
<path d="M2525.83 1449.06L2602.8 1425.79L2679.77 1400.68L2756.74 1378.14L2833.71 1354.86L2910.68 1341.12" fill="none" stroke="#4d4d4d" stroke-width="4.3" stroke-linecap="round" stroke-linejoin="round"/>
<circle cx="2525.83" cy="1449.06" r="18.3" fill="#fff" stroke="#4d4d4d" stroke-width="3.3"/><circle cx="2602.8" cy="1425.79" r="18.3" fill="#fff" stroke="#4d4d4d" stroke-width="3.3"/><circle cx="2679.77" cy="1400.68" r="18.3" fill="#fff" stroke="#4d4d4d" stroke-width="3.3"/><circle cx="2756.74" cy="1378.14" r="18.3" fill="#fff" stroke="#4d4d4d" stroke-width="3.3"/><circle cx="2833.71" cy="1354.86" r="18.3" fill="#fff" stroke="#4d4d4d" stroke-width="3.3"/><circle cx="2910.68" cy="1341.12" r="18.3" fill="#fff" stroke="#4d4d4d" stroke-width="3.3"/>
<path d="M2525.83 1643.31L2602.8 1629.02L2679.77 1614.36L2756.74 1602.08L2833.71 1591.09L2910.68 1591.09" fill="none" stroke="#e64141" stroke-width="4.3" stroke-linecap="round" stroke-linejoin="round"/>
<circle cx="2525.83" cy="1643.31" r="18.3" fill="#fff" stroke="#e64141" stroke-width="3.3"/><circle cx="2602.8" cy="1629.02" r="18.3" fill="#fff" stroke="#e64141" stroke-width="3.3"/><circle cx="2679.77" cy="1614.36" r="18.3" fill="#fff" stroke="#e64141" stroke-width="3.3"/><circle cx="2756.74" cy="1602.08" r="18.3" fill="#fff" stroke="#e64141" stroke-width="3.3"/><circle cx="2833.71" cy="1591.09" r="18.3" fill="#fff" stroke="#e64141" stroke-width="3.3"/><circle cx="2910.68" cy="1591.09" r="18.3" fill="#fff" stroke="#e64141" stroke-width="3.3"/>
<path d="M2525.83 1654.13L2602.8 1640.02L2679.77 1627.55L2756.74 1617.84L2833.71 1605.2L2910.68 1595.3" fill="none" stroke="#1f6fdc" stroke-width="4.3" stroke-linecap="round" stroke-linejoin="round"/>
<circle cx="2525.83" cy="1654.13" r="18.3" fill="#fff" stroke="#1f6fdc" stroke-width="3.3"/><circle cx="2602.8" cy="1640.02" r="18.3" fill="#fff" stroke="#1f6fdc" stroke-width="3.3"/><circle cx="2679.77" cy="1627.55" r="18.3" fill="#fff" stroke="#1f6fdc" stroke-width="3.3"/><circle cx="2756.74" cy="1617.84" r="18.3" fill="#fff" stroke="#1f6fdc" stroke-width="3.3"/><circle cx="2833.71" cy="1605.2" r="18.3" fill="#fff" stroke="#1f6fdc" stroke-width="3.3"/><circle cx="2910.68" cy="1595.3" r="18.3" fill="#fff" stroke="#1f6fdc" stroke-width="3.3"/>
<path d="M2987.65 1154.19L3064.62 1123.59L3141.59 1000.26L3218.56 959.02" fill="none" stroke="#4d4d4d" stroke-width="4.3" stroke-linecap="round" stroke-linejoin="round"/>
<path d="M2987.65 1129.08L3009.4 1166.75L2965.9 1166.75Z" fill="#fff" stroke="#4d4d4d" stroke-width="3.4" stroke-linejoin="round"/><path d="M3064.62 1098.47L3086.37 1136.15L3042.87 1136.15Z" fill="#fff" stroke="#4d4d4d" stroke-width="3.4" stroke-linejoin="round"/><path d="M3141.59 975.14L3163.34 1012.81L3119.84 1012.81Z" fill="#fff" stroke="#4d4d4d" stroke-width="3.4" stroke-linejoin="round"/><path d="M3218.56 933.91L3240.31 971.58L3196.81 971.58Z" fill="#fff" stroke="#4d4d4d" stroke-width="3.4" stroke-linejoin="round"/>
<path d="M2987.65 1420.1L3064.62 1405.26L3141.59 1387.48L3218.56 1378.14" fill="none" stroke="#e64141" stroke-width="4.3" stroke-linecap="round" stroke-linejoin="round"/>
<path d="M2987.65 1394.99L3009.4 1432.66L2965.9 1432.66Z" fill="#fff" stroke="#e64141" stroke-width="3.4" stroke-linejoin="round"/><path d="M3064.62 1380.15L3086.37 1417.82L3042.87 1417.82Z" fill="#fff" stroke="#e64141" stroke-width="3.4" stroke-linejoin="round"/><path d="M3141.59 1362.37L3163.34 1400.04L3119.84 1400.04Z" fill="#fff" stroke="#e64141" stroke-width="3.4" stroke-linejoin="round"/><path d="M3218.56 1353.02L3240.31 1390.7L3196.81 1390.7Z" fill="#fff" stroke="#e64141" stroke-width="3.4" stroke-linejoin="round"/>
<path d="M2987.65 1581.37L3064.62 1565.61L3141.59 1459.69L3218.56 1427.8" fill="none" stroke="#1f6fdc" stroke-width="4.3" stroke-linecap="round" stroke-linejoin="round"/>
<path d="M2987.65 1556.26L3009.4 1593.93L2965.9 1593.93Z" fill="#fff" stroke="#1f6fdc" stroke-width="3.4" stroke-linejoin="round"/><path d="M3064.62 1540.5L3086.37 1578.17L3042.87 1578.17Z" fill="#fff" stroke="#1f6fdc" stroke-width="3.4" stroke-linejoin="round"/><path d="M3141.59 1434.57L3163.34 1472.25L3119.84 1472.25Z" fill="#fff" stroke="#1f6fdc" stroke-width="3.4" stroke-linejoin="round"/><path d="M3218.56 1402.69L3240.31 1440.36L3196.81 1440.36Z" fill="#fff" stroke="#1f6fdc" stroke-width="3.4" stroke-linejoin="round"/>
</g>
<g id="series-82Zr">
<path d="M527.82 2635.3L604.8 2496.76" fill="none" stroke="#4d4d4d" stroke-width="3.9" stroke-linecap="round" stroke-linejoin="round" stroke-dasharray="8.2 12.7"/>
<path d="M527.82 2703.11L604.8 2656.74" fill="none" stroke="#e64141" stroke-width="3.9" stroke-linecap="round" stroke-linejoin="round" stroke-dasharray="8.2 12.7"/>
<path d="M527.82 2695.41L604.8 2602.5" fill="none" stroke="#4d4d4d" stroke-width="3.9" stroke-linecap="round" stroke-linejoin="round" stroke-dasharray="8.2 12.7"/>
<path d="M1451.58 2199.88L1528.56 2160.29" fill="none" stroke="#4d4d4d" stroke-width="3.9" stroke-linecap="round" stroke-linejoin="round" stroke-dasharray="8.2 12.7"/>
<path d="M1451.58 2464.87L1528.56 2441.96" fill="none" stroke="#e64141" stroke-width="3.9" stroke-linecap="round" stroke-linejoin="round" stroke-dasharray="8.2 12.7"/>
<path d="M1451.58 2496.94L1528.56 2482.28" fill="none" stroke="#4d4d4d" stroke-width="3.9" stroke-linecap="round" stroke-linejoin="round" stroke-dasharray="8.2 12.7"/>
<path d="M296.88 2733.71L373.86 2701.46L450.84 2669.02L527.82 2635.3" fill="none" stroke="#4d4d4d" stroke-width="4.3" stroke-linecap="round" stroke-linejoin="round"/>
<rect x="280.68" y="2717.51" width="32.4" height="32.4" fill="#fff" stroke="#4d4d4d" stroke-width="3" stroke-linejoin="round"/><rect x="357.66" y="2685.26" width="32.4" height="32.4" fill="#fff" stroke="#4d4d4d" stroke-width="3" stroke-linejoin="round"/><rect x="434.64" y="2652.82" width="32.4" height="32.4" fill="#fff" stroke="#4d4d4d" stroke-width="3" stroke-linejoin="round"/><rect x="511.62" y="2619.1" width="32.4" height="32.4" fill="#fff" stroke="#4d4d4d" stroke-width="3" stroke-linejoin="round"/>
<path d="M296.88 2748.74L373.86 2734.08L450.84 2718.5L527.82 2703.11" fill="none" stroke="#e64141" stroke-width="4.3" stroke-linecap="round" stroke-linejoin="round"/>
<rect x="280.68" y="2732.54" width="32.4" height="32.4" fill="#fff" stroke="#e64141" stroke-width="3" stroke-linejoin="round"/><rect x="357.66" y="2717.88" width="32.4" height="32.4" fill="#fff" stroke="#e64141" stroke-width="3" stroke-linejoin="round"/><rect x="434.64" y="2702.3" width="32.4" height="32.4" fill="#fff" stroke="#e64141" stroke-width="3" stroke-linejoin="round"/><rect x="511.62" y="2686.91" width="32.4" height="32.4" fill="#fff" stroke="#e64141" stroke-width="3" stroke-linejoin="round"/>
<path d="M296.88 2747.64L373.86 2731.33L450.84 2713.92L527.82 2695.41" fill="none" stroke="#1f6fdc" stroke-width="4.3" stroke-linecap="round" stroke-linejoin="round"/>
<rect x="280.68" y="2731.44" width="32.4" height="32.4" fill="#fff" stroke="#1f6fdc" stroke-width="3" stroke-linejoin="round"/><rect x="357.66" y="2715.13" width="32.4" height="32.4" fill="#fff" stroke="#1f6fdc" stroke-width="3" stroke-linejoin="round"/><rect x="434.64" y="2697.72" width="32.4" height="32.4" fill="#fff" stroke="#1f6fdc" stroke-width="3" stroke-linejoin="round"/><rect x="511.62" y="2679.21" width="32.4" height="32.4" fill="#fff" stroke="#1f6fdc" stroke-width="3" stroke-linejoin="round"/>
<path d="M604.8 2496.76L681.78 2428.4L758.76 2406.23L835.74 2380.02L912.72 2354.73L989.7 2327.24L1066.68 2302.32L1143.66 2279.04L1220.64 2257.05L1297.62 2236.89L1374.6 2219.12L1451.58 2199.88" fill="none" stroke="#4d4d4d" stroke-width="4.3" stroke-linecap="round" stroke-linejoin="round"/>
<circle cx="604.8" cy="2496.76" r="18.3" fill="#fff" stroke="#4d4d4d" stroke-width="3.3"/><circle cx="681.78" cy="2428.4" r="18.3" fill="#fff" stroke="#4d4d4d" stroke-width="3.3"/><circle cx="758.76" cy="2406.23" r="18.3" fill="#fff" stroke="#4d4d4d" stroke-width="3.3"/><circle cx="835.74" cy="2380.02" r="18.3" fill="#fff" stroke="#4d4d4d" stroke-width="3.3"/><circle cx="912.72" cy="2354.73" r="18.3" fill="#fff" stroke="#4d4d4d" stroke-width="3.3"/><circle cx="989.7" cy="2327.24" r="18.3" fill="#fff" stroke="#4d4d4d" stroke-width="3.3"/><circle cx="1066.68" cy="2302.32" r="18.3" fill="#fff" stroke="#4d4d4d" stroke-width="3.3"/><circle cx="1143.66" cy="2279.04" r="18.3" fill="#fff" stroke="#4d4d4d" stroke-width="3.3"/><circle cx="1220.64" cy="2257.05" r="18.3" fill="#fff" stroke="#4d4d4d" stroke-width="3.3"/><circle cx="1297.62" cy="2236.89" r="18.3" fill="#fff" stroke="#4d4d4d" stroke-width="3.3"/><circle cx="1374.6" cy="2219.12" r="18.3" fill="#fff" stroke="#4d4d4d" stroke-width="3.3"/><circle cx="1451.58" cy="2199.88" r="18.3" fill="#fff" stroke="#4d4d4d" stroke-width="3.3"/>
<path d="M604.8 2656.74L681.78 2590.95L758.76 2581.24L835.74 2566.58L912.72 2554.12L989.7 2538.91L1066.68 2524.06L1143.66 2509.77L1220.64 2497.86L1297.62 2486.49L1374.6 2476.96L1451.58 2464.87" fill="none" stroke="#e64141" stroke-width="4.3" stroke-linecap="round" stroke-linejoin="round"/>
<circle cx="604.8" cy="2656.74" r="18.3" fill="#fff" stroke="#e64141" stroke-width="3.3"/><circle cx="681.78" cy="2590.95" r="18.3" fill="#fff" stroke="#e64141" stroke-width="3.3"/><circle cx="758.76" cy="2581.24" r="18.3" fill="#fff" stroke="#e64141" stroke-width="3.3"/><circle cx="835.74" cy="2566.58" r="18.3" fill="#fff" stroke="#e64141" stroke-width="3.3"/><circle cx="912.72" cy="2554.12" r="18.3" fill="#fff" stroke="#e64141" stroke-width="3.3"/><circle cx="989.7" cy="2538.91" r="18.3" fill="#fff" stroke="#e64141" stroke-width="3.3"/><circle cx="1066.68" cy="2524.06" r="18.3" fill="#fff" stroke="#e64141" stroke-width="3.3"/><circle cx="1143.66" cy="2509.77" r="18.3" fill="#fff" stroke="#e64141" stroke-width="3.3"/><circle cx="1220.64" cy="2497.86" r="18.3" fill="#fff" stroke="#e64141" stroke-width="3.3"/><circle cx="1297.62" cy="2486.49" r="18.3" fill="#fff" stroke="#e64141" stroke-width="3.3"/><circle cx="1374.6" cy="2476.96" r="18.3" fill="#fff" stroke="#e64141" stroke-width="3.3"/><circle cx="1451.58" cy="2464.87" r="18.3" fill="#fff" stroke="#e64141" stroke-width="3.3"/>
<path d="M604.8 2602.5L681.78 2596.63L758.76 2586.19L835.74 2575.38L912.72 2562.91L989.7 2551.92L1066.68 2540.74L1143.66 2529.93L1220.64 2521.31L1297.62 2513.25L1374.6 2505.55L1451.58 2496.94" fill="none" stroke="#1f6fdc" stroke-width="4.3" stroke-linecap="round" stroke-linejoin="round"/>
<circle cx="604.8" cy="2602.5" r="18.3" fill="#fff" stroke="#1f6fdc" stroke-width="3.3"/><circle cx="681.78" cy="2596.63" r="18.3" fill="#fff" stroke="#1f6fdc" stroke-width="3.3"/><circle cx="758.76" cy="2586.19" r="18.3" fill="#fff" stroke="#1f6fdc" stroke-width="3.3"/><circle cx="835.74" cy="2575.38" r="18.3" fill="#fff" stroke="#1f6fdc" stroke-width="3.3"/><circle cx="912.72" cy="2562.91" r="18.3" fill="#fff" stroke="#1f6fdc" stroke-width="3.3"/><circle cx="989.7" cy="2551.92" r="18.3" fill="#fff" stroke="#1f6fdc" stroke-width="3.3"/><circle cx="1066.68" cy="2540.74" r="18.3" fill="#fff" stroke="#1f6fdc" stroke-width="3.3"/><circle cx="1143.66" cy="2529.93" r="18.3" fill="#fff" stroke="#1f6fdc" stroke-width="3.3"/><circle cx="1220.64" cy="2521.31" r="18.3" fill="#fff" stroke="#1f6fdc" stroke-width="3.3"/><circle cx="1297.62" cy="2513.25" r="18.3" fill="#fff" stroke="#1f6fdc" stroke-width="3.3"/><circle cx="1374.6" cy="2505.55" r="18.3" fill="#fff" stroke="#1f6fdc" stroke-width="3.3"/><circle cx="1451.58" cy="2496.94" r="18.3" fill="#fff" stroke="#1f6fdc" stroke-width="3.3"/>
<path d="M1528.56 2160.29L1605.54 2153.33L1682.52 2146.73" fill="none" stroke="#4d4d4d" stroke-width="4.3" stroke-linecap="round" stroke-linejoin="round"/>
<path d="M1528.56 2135.18L1550.31 2172.85L1506.81 2172.85Z" fill="#fff" stroke="#4d4d4d" stroke-width="3.4" stroke-linejoin="round"/><path d="M1605.54 2128.21L1627.29 2165.88L1583.79 2165.88Z" fill="#fff" stroke="#4d4d4d" stroke-width="3.4" stroke-linejoin="round"/><path d="M1682.52 2121.62L1704.27 2159.29L1660.77 2159.29Z" fill="#fff" stroke="#4d4d4d" stroke-width="3.4" stroke-linejoin="round"/>
<path d="M1528.56 2441.96L1605.54 2438.11L1682.52 2435" fill="none" stroke="#e64141" stroke-width="4.3" stroke-linecap="round" stroke-linejoin="round"/>
<path d="M1528.56 2416.85L1550.31 2454.52L1506.81 2454.52Z" fill="#fff" stroke="#e64141" stroke-width="3.4" stroke-linejoin="round"/><path d="M1605.54 2413L1627.29 2450.67L1583.79 2450.67Z" fill="#fff" stroke="#e64141" stroke-width="3.4" stroke-linejoin="round"/><path d="M1682.52 2409.88L1704.27 2447.56L1660.77 2447.56Z" fill="#fff" stroke="#e64141" stroke-width="3.4" stroke-linejoin="round"/>
<path d="M1528.56 2482.28L1605.54 2478.43L1682.52 2474.58" fill="none" stroke="#1f6fdc" stroke-width="4.3" stroke-linecap="round" stroke-linejoin="round"/>
<path d="M1528.56 2457.16L1550.31 2494.84L1506.81 2494.84Z" fill="#fff" stroke="#1f6fdc" stroke-width="3.4" stroke-linejoin="round"/><path d="M1605.54 2453.32L1627.29 2490.99L1583.79 2490.99Z" fill="#fff" stroke="#1f6fdc" stroke-width="3.4" stroke-linejoin="round"/><path d="M1682.52 2449.47L1704.27 2487.14L1660.77 2487.14Z" fill="#fff" stroke="#1f6fdc" stroke-width="3.4" stroke-linejoin="round"/>
<path d="M375.4 2726.75L463.93 2690.1L545.14 2653.44L612.5 2616.79L653.3 2580.14L672.54 2543.49L711.03 2506.84L746.44 2470.18L701.02 2433.53L750.29 2396.88L848.83 2360.23L945.82 2323.58L1030.5 2286.92" fill="none" stroke="#4d4d4d" stroke-width="1.8" stroke-linecap="round" stroke-linejoin="round"/>
<use href="#ball" x="375.4" y="2726.75"/><use href="#ball" x="463.93" y="2690.1"/><use href="#ball" x="545.14" y="2653.44"/><use href="#ball" x="612.5" y="2616.79"/><use href="#ball" x="653.3" y="2580.14"/><use href="#ball" x="672.54" y="2543.49"/><use href="#ball" x="711.03" y="2506.84"/><use href="#ball" x="746.44" y="2470.18"/><use href="#ball" x="701.02" y="2433.53"/><use href="#ball" x="750.29" y="2396.88"/><use href="#ball" x="848.83" y="2360.23"/><use href="#ball" x="945.82" y="2323.58"/><use href="#ball" x="1030.5" y="2286.92"/>
</g>
<g id="series-82Mo">
<path d="M2217.95 2595.53L2294.92 2434.08" fill="none" stroke="#4d4d4d" stroke-width="3.9" stroke-linecap="round" stroke-linejoin="round" stroke-dasharray="8.2 12.7"/>
<path d="M2217.95 2672.5L2294.92 2596.63" fill="none" stroke="#e64141" stroke-width="3.9" stroke-linecap="round" stroke-linejoin="round" stroke-dasharray="8.2 12.7"/>
<path d="M2217.95 2686.8L2294.92 2601.21" fill="none" stroke="#4d4d4d" stroke-width="3.9" stroke-linecap="round" stroke-linejoin="round" stroke-dasharray="8.2 12.7"/>
<path d="M3064.62 2222.97L3141.59 2154.61" fill="none" stroke="#4d4d4d" stroke-width="3.9" stroke-linecap="round" stroke-linejoin="round" stroke-dasharray="8.2 12.7"/>
<path d="M3064.62 2505.37L3141.59 2475.68" fill="none" stroke="#e64141" stroke-width="3.9" stroke-linecap="round" stroke-linejoin="round" stroke-dasharray="8.2 12.7"/>
<path d="M3064.62 2479.9L3141.59 2441.78" fill="none" stroke="#4d4d4d" stroke-width="3.9" stroke-linecap="round" stroke-linejoin="round" stroke-dasharray="8.2 12.7"/>
<path d="M1910.07 2733.71L1987.04 2699.63L2064.01 2665.54L2140.98 2630.72L2217.95 2595.53" fill="none" stroke="#4d4d4d" stroke-width="4.3" stroke-linecap="round" stroke-linejoin="round"/>
<rect x="1893.87" y="2717.51" width="32.4" height="32.4" fill="#fff" stroke="#4d4d4d" stroke-width="3" stroke-linejoin="round"/><rect x="1970.84" y="2683.43" width="32.4" height="32.4" fill="#fff" stroke="#4d4d4d" stroke-width="3" stroke-linejoin="round"/><rect x="2047.81" y="2649.34" width="32.4" height="32.4" fill="#fff" stroke="#4d4d4d" stroke-width="3" stroke-linejoin="round"/><rect x="2124.78" y="2614.52" width="32.4" height="32.4" fill="#fff" stroke="#4d4d4d" stroke-width="3" stroke-linejoin="round"/><rect x="2201.75" y="2579.33" width="32.4" height="32.4" fill="#fff" stroke="#4d4d4d" stroke-width="3" stroke-linejoin="round"/>
<path d="M1910.07 2745.99L1987.04 2728.21L2064.01 2710.8L2140.98 2691.93L2217.95 2672.5" fill="none" stroke="#e64141" stroke-width="4.3" stroke-linecap="round" stroke-linejoin="round"/>
<rect x="1893.87" y="2729.79" width="32.4" height="32.4" fill="#fff" stroke="#e64141" stroke-width="3" stroke-linejoin="round"/><rect x="1970.84" y="2712.01" width="32.4" height="32.4" fill="#fff" stroke="#e64141" stroke-width="3" stroke-linejoin="round"/><rect x="2047.81" y="2694.6" width="32.4" height="32.4" fill="#fff" stroke="#e64141" stroke-width="3" stroke-linejoin="round"/><rect x="2124.78" y="2675.73" width="32.4" height="32.4" fill="#fff" stroke="#e64141" stroke-width="3" stroke-linejoin="round"/><rect x="2201.75" y="2656.3" width="32.4" height="32.4" fill="#fff" stroke="#e64141" stroke-width="3" stroke-linejoin="round"/>
<path d="M1910.07 2749.47L1987.04 2734.08L2064.01 2718.5L2140.98 2703.11L2217.95 2686.8" fill="none" stroke="#1f6fdc" stroke-width="4.3" stroke-linecap="round" stroke-linejoin="round"/>
<rect x="1893.87" y="2733.27" width="32.4" height="32.4" fill="#fff" stroke="#1f6fdc" stroke-width="3" stroke-linejoin="round"/><rect x="1970.84" y="2717.88" width="32.4" height="32.4" fill="#fff" stroke="#1f6fdc" stroke-width="3" stroke-linejoin="round"/><rect x="2047.81" y="2702.3" width="32.4" height="32.4" fill="#fff" stroke="#1f6fdc" stroke-width="3" stroke-linejoin="round"/><rect x="2124.78" y="2686.91" width="32.4" height="32.4" fill="#fff" stroke="#1f6fdc" stroke-width="3" stroke-linejoin="round"/><rect x="2201.75" y="2670.6" width="32.4" height="32.4" fill="#fff" stroke="#1f6fdc" stroke-width="3" stroke-linejoin="round"/>
<path d="M2294.92 2434.08L2371.89 2406.23L2448.86 2382.95L2525.83 2359.49L2602.8 2334.57L2679.77 2310.38L2756.74 2287.84L2833.71 2266.4L2910.68 2246.61L2987.65 2227.91L3064.62 2222.97" fill="none" stroke="#4d4d4d" stroke-width="4.3" stroke-linecap="round" stroke-linejoin="round"/>
<circle cx="2294.92" cy="2434.08" r="18.3" fill="#fff" stroke="#4d4d4d" stroke-width="3.3"/><circle cx="2371.89" cy="2406.23" r="18.3" fill="#fff" stroke="#4d4d4d" stroke-width="3.3"/><circle cx="2448.86" cy="2382.95" r="18.3" fill="#fff" stroke="#4d4d4d" stroke-width="3.3"/><circle cx="2525.83" cy="2359.49" r="18.3" fill="#fff" stroke="#4d4d4d" stroke-width="3.3"/><circle cx="2602.8" cy="2334.57" r="18.3" fill="#fff" stroke="#4d4d4d" stroke-width="3.3"/><circle cx="2679.77" cy="2310.38" r="18.3" fill="#fff" stroke="#4d4d4d" stroke-width="3.3"/><circle cx="2756.74" cy="2287.84" r="18.3" fill="#fff" stroke="#4d4d4d" stroke-width="3.3"/><circle cx="2833.71" cy="2266.4" r="18.3" fill="#fff" stroke="#4d4d4d" stroke-width="3.3"/><circle cx="2910.68" cy="2246.61" r="18.3" fill="#fff" stroke="#4d4d4d" stroke-width="3.3"/><circle cx="2987.65" cy="2227.91" r="18.3" fill="#fff" stroke="#4d4d4d" stroke-width="3.3"/><circle cx="3064.62" cy="2222.97" r="18.3" fill="#fff" stroke="#4d4d4d" stroke-width="3.3"/>
<path d="M2294.92 2596.63L2371.89 2579.96L2448.86 2569.51L2525.83 2557.97L2602.8 2547.52L2679.77 2538.91L2756.74 2527.18L2833.71 2518.01L2910.68 2510.5L2987.65 2502.07L3064.62 2505.37" fill="none" stroke="#e64141" stroke-width="4.3" stroke-linecap="round" stroke-linejoin="round"/>
<circle cx="2294.92" cy="2596.63" r="18.3" fill="#fff" stroke="#e64141" stroke-width="3.3"/><circle cx="2371.89" cy="2579.96" r="18.3" fill="#fff" stroke="#e64141" stroke-width="3.3"/><circle cx="2448.86" cy="2569.51" r="18.3" fill="#fff" stroke="#e64141" stroke-width="3.3"/><circle cx="2525.83" cy="2557.97" r="18.3" fill="#fff" stroke="#e64141" stroke-width="3.3"/><circle cx="2602.8" cy="2547.52" r="18.3" fill="#fff" stroke="#e64141" stroke-width="3.3"/><circle cx="2679.77" cy="2538.91" r="18.3" fill="#fff" stroke="#e64141" stroke-width="3.3"/><circle cx="2756.74" cy="2527.18" r="18.3" fill="#fff" stroke="#e64141" stroke-width="3.3"/><circle cx="2833.71" cy="2518.01" r="18.3" fill="#fff" stroke="#e64141" stroke-width="3.3"/><circle cx="2910.68" cy="2510.5" r="18.3" fill="#fff" stroke="#e64141" stroke-width="3.3"/><circle cx="2987.65" cy="2502.07" r="18.3" fill="#fff" stroke="#e64141" stroke-width="3.3"/><circle cx="3064.62" cy="2505.37" r="18.3" fill="#fff" stroke="#e64141" stroke-width="3.3"/>
<path d="M2294.92 2601.21L2371.89 2590.04L2448.86 2576.47L2525.83 2563.83L2602.8 2550.27L2679.77 2535.61L2756.74 2521.68L2833.71 2509.22L2910.68 2498.77L2987.65 2488.69L3064.62 2479.9" fill="none" stroke="#1f6fdc" stroke-width="4.3" stroke-linecap="round" stroke-linejoin="round"/>
<circle cx="2294.92" cy="2601.21" r="18.3" fill="#fff" stroke="#1f6fdc" stroke-width="3.3"/><circle cx="2371.89" cy="2590.04" r="18.3" fill="#fff" stroke="#1f6fdc" stroke-width="3.3"/><circle cx="2448.86" cy="2576.47" r="18.3" fill="#fff" stroke="#1f6fdc" stroke-width="3.3"/><circle cx="2525.83" cy="2563.83" r="18.3" fill="#fff" stroke="#1f6fdc" stroke-width="3.3"/><circle cx="2602.8" cy="2550.27" r="18.3" fill="#fff" stroke="#1f6fdc" stroke-width="3.3"/><circle cx="2679.77" cy="2535.61" r="18.3" fill="#fff" stroke="#1f6fdc" stroke-width="3.3"/><circle cx="2756.74" cy="2521.68" r="18.3" fill="#fff" stroke="#1f6fdc" stroke-width="3.3"/><circle cx="2833.71" cy="2509.22" r="18.3" fill="#fff" stroke="#1f6fdc" stroke-width="3.3"/><circle cx="2910.68" cy="2498.77" r="18.3" fill="#fff" stroke="#1f6fdc" stroke-width="3.3"/><circle cx="2987.65" cy="2488.69" r="18.3" fill="#fff" stroke="#1f6fdc" stroke-width="3.3"/><circle cx="3064.62" cy="2479.9" r="18.3" fill="#fff" stroke="#1f6fdc" stroke-width="3.3"/>
<path d="M3141.59 2154.61L3218.56 2144.53L3295.53 2114.48" fill="none" stroke="#4d4d4d" stroke-width="4.3" stroke-linecap="round" stroke-linejoin="round"/>
<path d="M3141.59 2129.5L3163.34 2167.17L3119.84 2167.17Z" fill="#fff" stroke="#4d4d4d" stroke-width="3.4" stroke-linejoin="round"/><path d="M3218.56 2119.42L3240.31 2157.09L3196.81 2157.09Z" fill="#fff" stroke="#4d4d4d" stroke-width="3.4" stroke-linejoin="round"/><path d="M3295.53 2089.36L3317.28 2127.03L3273.78 2127.03Z" fill="#fff" stroke="#4d4d4d" stroke-width="3.4" stroke-linejoin="round"/>
<path d="M3141.59 2475.68L3218.56 2468.53L3295.53 2442.7" fill="none" stroke="#e64141" stroke-width="4.3" stroke-linecap="round" stroke-linejoin="round"/>
<path d="M3141.59 2450.57L3163.34 2488.24L3119.84 2488.24Z" fill="#fff" stroke="#e64141" stroke-width="3.4" stroke-linejoin="round"/><path d="M3218.56 2443.42L3240.31 2481.09L3196.81 2481.09Z" fill="#fff" stroke="#e64141" stroke-width="3.4" stroke-linejoin="round"/><path d="M3295.53 2417.58L3317.28 2455.25L3273.78 2455.25Z" fill="#fff" stroke="#e64141" stroke-width="3.4" stroke-linejoin="round"/>
<path d="M3141.59 2441.78L3218.56 2438.85L3295.53 2435.18" fill="none" stroke="#1f6fdc" stroke-width="4.3" stroke-linecap="round" stroke-linejoin="round"/>
<path d="M3141.59 2416.66L3163.34 2454.34L3119.84 2454.34Z" fill="#fff" stroke="#1f6fdc" stroke-width="3.4" stroke-linejoin="round"/><path d="M3218.56 2413.73L3240.31 2451.4L3196.81 2451.4Z" fill="#fff" stroke="#1f6fdc" stroke-width="3.4" stroke-linejoin="round"/><path d="M3295.53 2410.07L3317.28 2447.74L3273.78 2447.74Z" fill="#fff" stroke="#1f6fdc" stroke-width="3.4" stroke-linejoin="round"/>
</g>
<g id="legend-74Kr">
<path d="M262.65 76.3L396.75 76.3" fill="none" stroke="#4d4d4d" stroke-width="4.3" stroke-linecap="round" stroke-linejoin="round"/><rect x="313.3" y="60.1" width="32.4" height="32.4" fill="#fff" stroke="#4d4d4d" stroke-width="3" stroke-linejoin="round"/>
<text x="395.94" y="96.7" font-size="58" textLength="45.18" lengthAdjust="spacingAndGlyphs">Ix</text>
<path d="M456.65 76.3L590.75 76.3" fill="none" stroke="#e64141" stroke-width="4.3" stroke-linecap="round" stroke-linejoin="round"/><rect x="507.3" y="60.1" width="32.4" height="32.4" fill="#fff" stroke="#e64141" stroke-width="3" stroke-linejoin="round"/>
<text x="590.67" y="96.7" font-size="58" textLength="48.15" lengthAdjust="spacingAndGlyphs">Ip</text>
<path d="M655.05 76.3L789.15 76.3" fill="none" stroke="#1f6fdc" stroke-width="4.3" stroke-linecap="round" stroke-linejoin="round"/><rect x="705.7" y="60.1" width="32.4" height="32.4" fill="#fff" stroke="#1f6fdc" stroke-width="3" stroke-linejoin="round"/>
<text x="789.12" y="96.7" font-size="58" textLength="47.69" lengthAdjust="spacingAndGlyphs">In</text>
<text x="852.24" y="96.7" font-size="58" textLength="16.45" lengthAdjust="spacingAndGlyphs">(</text><text x="871.86" y="96.7" font-size="52" class="se" textLength="29.5" lengthAdjust="spacingAndGlyphs">&#946;</text><text x="899.56" y="111.9" font-size="34" textLength="24.78" lengthAdjust="spacingAndGlyphs">2</text><text x="929.2" y="95.7" font-size="53" textLength="32.21" lengthAdjust="spacingAndGlyphs">&#8776;</text><text x="964.92" y="96.7" font-size="58" textLength="139.63" lengthAdjust="spacingAndGlyphs">0.383</text><text x="1120.99" y="96.7" font-size="56" class="se" textLength="25.96" lengthAdjust="spacingAndGlyphs">&#947;</text><text x="1152.7" y="95.7" font-size="53" textLength="32.21" lengthAdjust="spacingAndGlyphs">&#8776;</text><text x="1191.96" y="96.7" font-size="58" textLength="104.23" lengthAdjust="spacingAndGlyphs">1.6&#176;</text><text x="1301.11" y="96.7" font-size="58" textLength="16.45" lengthAdjust="spacingAndGlyphs">)</text>
<path d="M262.65 174.2L396.75 174.2" fill="none" stroke="#4d4d4d" stroke-width="4.3" stroke-linecap="round" stroke-linejoin="round"/><circle cx="329.5" cy="174.2" r="18.3" fill="#fff" stroke="#4d4d4d" stroke-width="3.3"/>
<text x="395.94" y="194.6" font-size="58" textLength="45.18" lengthAdjust="spacingAndGlyphs">Ix</text>
<path d="M456.65 174.2L590.75 174.2" fill="none" stroke="#e64141" stroke-width="4.3" stroke-linecap="round" stroke-linejoin="round"/><circle cx="523.5" cy="174.2" r="18.3" fill="#fff" stroke="#e64141" stroke-width="3.3"/>
<text x="590.67" y="194.6" font-size="58" textLength="48.15" lengthAdjust="spacingAndGlyphs">Ip</text>
<path d="M655.05 174.2L789.15 174.2" fill="none" stroke="#1f6fdc" stroke-width="4.3" stroke-linecap="round" stroke-linejoin="round"/><circle cx="721.9" cy="174.2" r="18.3" fill="#fff" stroke="#1f6fdc" stroke-width="3.3"/>
<text x="789.12" y="194.6" font-size="58" textLength="47.69" lengthAdjust="spacingAndGlyphs">In</text>
<text x="852.24" y="194.6" font-size="58" textLength="16.45" lengthAdjust="spacingAndGlyphs">(</text><text x="871.86" y="194.6" font-size="52" class="se" textLength="29.5" lengthAdjust="spacingAndGlyphs">&#946;</text><text x="899.56" y="209.8" font-size="34" textLength="24.78" lengthAdjust="spacingAndGlyphs">2</text><text x="929.2" y="193.6" font-size="53" textLength="32.21" lengthAdjust="spacingAndGlyphs">&#8776;</text><text x="964.92" y="194.6" font-size="58" textLength="139.52" lengthAdjust="spacingAndGlyphs">0.275</text><text x="1120.99" y="194.6" font-size="56" class="se" textLength="25.96" lengthAdjust="spacingAndGlyphs">&#947;</text><text x="1152.7" y="193.6" font-size="53" textLength="32.21" lengthAdjust="spacingAndGlyphs">&#8776;</text><text x="1191.94" y="194.6" font-size="58" textLength="137.38" lengthAdjust="spacingAndGlyphs">11.0&#176;</text><text x="1334.21" y="194.6" font-size="58" textLength="16.45" lengthAdjust="spacingAndGlyphs">)</text>
<path d="M262.65 272L396.75 272" fill="none" stroke="#4d4d4d" stroke-width="4.3" stroke-linecap="round" stroke-linejoin="round"/><path d="M329.5 246.89L351.25 284.56L307.75 284.56Z" fill="#fff" stroke="#4d4d4d" stroke-width="3.4" stroke-linejoin="round"/>
<text x="395.94" y="292.4" font-size="58" textLength="45.18" lengthAdjust="spacingAndGlyphs">Ix</text>
<path d="M456.65 272L590.75 272" fill="none" stroke="#e64141" stroke-width="4.3" stroke-linecap="round" stroke-linejoin="round"/><path d="M523.5 246.89L545.25 284.56L501.75 284.56Z" fill="#fff" stroke="#e64141" stroke-width="3.4" stroke-linejoin="round"/>
<text x="590.67" y="292.4" font-size="58" textLength="48.15" lengthAdjust="spacingAndGlyphs">Ip</text>
<path d="M655.05 272L789.15 272" fill="none" stroke="#1f6fdc" stroke-width="4.3" stroke-linecap="round" stroke-linejoin="round"/><path d="M721.9 246.89L743.65 284.56L700.15 284.56Z" fill="#fff" stroke="#1f6fdc" stroke-width="3.4" stroke-linejoin="round"/>
<text x="789.12" y="292.4" font-size="58" textLength="47.69" lengthAdjust="spacingAndGlyphs">In</text>
<text x="868.44" y="292.4" font-size="58" textLength="16.45" lengthAdjust="spacingAndGlyphs">(</text><text x="888.06" y="292.4" font-size="52" class="se" textLength="29.5" lengthAdjust="spacingAndGlyphs">&#946;</text><text x="915.76" y="307.6" font-size="34" textLength="24.78" lengthAdjust="spacingAndGlyphs">2</text><text x="945.4" y="291.4" font-size="53" textLength="32.21" lengthAdjust="spacingAndGlyphs">&#8776;</text><text x="981.11" y="292.4" font-size="58" textLength="140" lengthAdjust="spacingAndGlyphs">0.282</text><text x="1137.19" y="292.4" font-size="56" class="se" textLength="25.96" lengthAdjust="spacingAndGlyphs">&#947;</text><text x="1168.9" y="291.4" font-size="53" textLength="32.21" lengthAdjust="spacingAndGlyphs">&#8776;</text><text x="1205.85" y="292.4" font-size="58" textLength="126.42" lengthAdjust="spacingAndGlyphs">-2.8&#176;</text><text x="1337.11" y="292.4" font-size="58" textLength="16.45" lengthAdjust="spacingAndGlyphs">)</text>
<path d="M260.5 359.4L398 359.4" fill="none" stroke="#4d4d4d" stroke-width="1.8" stroke-linecap="round" stroke-linejoin="round"/>
<use href="#ball" x="329" y="359.4"/>
<text x="410.31" y="379" font-size="58" textLength="121.75" lengthAdjust="spacingAndGlyphs">Exp.</text>
</g>
<g id="legend-74Sr">
<path d="M1866.95 81L2001.05 81" fill="none" stroke="#4d4d4d" stroke-width="4.3" stroke-linecap="round" stroke-linejoin="round"/><rect x="1917.6" y="64.8" width="32.4" height="32.4" fill="#fff" stroke="#4d4d4d" stroke-width="3" stroke-linejoin="round"/>
<text x="2000.24" y="101.4" font-size="58" textLength="45.18" lengthAdjust="spacingAndGlyphs">Ix</text>
<path d="M2060.95 81L2195.05 81" fill="none" stroke="#e64141" stroke-width="4.3" stroke-linecap="round" stroke-linejoin="round"/><rect x="2111.6" y="64.8" width="32.4" height="32.4" fill="#fff" stroke="#e64141" stroke-width="3" stroke-linejoin="round"/>
<text x="2194.97" y="101.4" font-size="58" textLength="48.15" lengthAdjust="spacingAndGlyphs">Ip</text>
<path d="M2259.35 81L2393.45 81" fill="none" stroke="#1f6fdc" stroke-width="4.3" stroke-linecap="round" stroke-linejoin="round"/><rect x="2310" y="64.8" width="32.4" height="32.4" fill="#fff" stroke="#1f6fdc" stroke-width="3" stroke-linejoin="round"/>
<text x="2393.42" y="101.4" font-size="58" textLength="47.69" lengthAdjust="spacingAndGlyphs">In</text>
<text x="2456.94" y="101.4" font-size="58" textLength="16.45" lengthAdjust="spacingAndGlyphs">(</text><text x="2492.56" y="101.4" font-size="52" class="se" textLength="29.5" lengthAdjust="spacingAndGlyphs">&#946;</text><text x="2520.26" y="116.6" font-size="34" textLength="24.78" lengthAdjust="spacingAndGlyphs">2</text><text x="2549.9" y="100.4" font-size="53" textLength="32.21" lengthAdjust="spacingAndGlyphs">&#8776;</text><text x="2585.62" y="101.4" font-size="58" textLength="139.6" lengthAdjust="spacingAndGlyphs">0.378</text><text x="2741.69" y="101.4" font-size="56" class="se" textLength="25.96" lengthAdjust="spacingAndGlyphs">&#947;</text><text x="2773.4" y="100.4" font-size="53" textLength="32.21" lengthAdjust="spacingAndGlyphs">&#8776;</text><text x="2812.62" y="101.4" font-size="58" textLength="105.21" lengthAdjust="spacingAndGlyphs">1.1&#176;</text><text x="2922.71" y="101.4" font-size="58" textLength="16.45" lengthAdjust="spacingAndGlyphs">)</text>
<path d="M1866.95 179.7L2001.05 179.7" fill="none" stroke="#4d4d4d" stroke-width="4.3" stroke-linecap="round" stroke-linejoin="round"/><circle cx="1933.8" cy="179.7" r="18.3" fill="#fff" stroke="#4d4d4d" stroke-width="3.3"/>
<text x="2000.24" y="200.1" font-size="58" textLength="45.18" lengthAdjust="spacingAndGlyphs">Ix</text>
<path d="M2060.95 179.7L2195.05 179.7" fill="none" stroke="#e64141" stroke-width="4.3" stroke-linecap="round" stroke-linejoin="round"/><circle cx="2127.8" cy="179.7" r="18.3" fill="#fff" stroke="#e64141" stroke-width="3.3"/>
<text x="2194.97" y="200.1" font-size="58" textLength="48.15" lengthAdjust="spacingAndGlyphs">Ip</text>
<path d="M2259.35 179.7L2393.45 179.7" fill="none" stroke="#1f6fdc" stroke-width="4.3" stroke-linecap="round" stroke-linejoin="round"/><circle cx="2326.2" cy="179.7" r="18.3" fill="#fff" stroke="#1f6fdc" stroke-width="3.3"/>
<text x="2393.42" y="200.1" font-size="58" textLength="47.69" lengthAdjust="spacingAndGlyphs">In</text>
<text x="2456.94" y="200.1" font-size="58" textLength="16.45" lengthAdjust="spacingAndGlyphs">(</text><text x="2476.56" y="200.1" font-size="52" class="se" textLength="29.5" lengthAdjust="spacingAndGlyphs">&#946;</text><text x="2504.26" y="215.3" font-size="34" textLength="24.78" lengthAdjust="spacingAndGlyphs">2</text><text x="2533.9" y="199.1" font-size="53" textLength="32.21" lengthAdjust="spacingAndGlyphs">&#8776;</text><text x="2569.63" y="200.1" font-size="58" textLength="138.79" lengthAdjust="spacingAndGlyphs">0.294</text><text x="2725.69" y="200.1" font-size="56" class="se" textLength="25.96" lengthAdjust="spacingAndGlyphs">&#947;</text><text x="2757.4" y="199.1" font-size="53" textLength="32.21" lengthAdjust="spacingAndGlyphs">&#8776;</text><text x="2793.95" y="200.1" font-size="58" textLength="107.67" lengthAdjust="spacingAndGlyphs">6.0&#176;</text><text x="2906.41" y="200.1" font-size="58" textLength="16.45" lengthAdjust="spacingAndGlyphs">)</text>
<path d="M1864.8 266.7L2002.3 266.7" fill="none" stroke="#4d4d4d" stroke-width="1.8" stroke-linecap="round" stroke-linejoin="round"/>
<use href="#ball" x="1933.3" y="266.7"/>
<text x="2014.61" y="286.3" font-size="58" textLength="121.75" lengthAdjust="spacingAndGlyphs">Exp.</text>
</g>
<g id="legend-78Sr">
<path d="M256.55 999.2L390.65 999.2" fill="none" stroke="#4d4d4d" stroke-width="4.3" stroke-linecap="round" stroke-linejoin="round"/><rect x="307.2" y="983" width="32.4" height="32.4" fill="#fff" stroke="#4d4d4d" stroke-width="3" stroke-linejoin="round"/>
<text x="389.84" y="1019.6" font-size="58" textLength="45.18" lengthAdjust="spacingAndGlyphs">Ix</text>
<path d="M450.55 999.2L584.65 999.2" fill="none" stroke="#e64141" stroke-width="4.3" stroke-linecap="round" stroke-linejoin="round"/><rect x="501.2" y="983" width="32.4" height="32.4" fill="#fff" stroke="#e64141" stroke-width="3" stroke-linejoin="round"/>
<text x="584.57" y="1019.6" font-size="58" textLength="48.15" lengthAdjust="spacingAndGlyphs">Ip</text>
<path d="M648.95 999.2L783.05 999.2" fill="none" stroke="#1f6fdc" stroke-width="4.3" stroke-linecap="round" stroke-linejoin="round"/><rect x="699.6" y="983" width="32.4" height="32.4" fill="#fff" stroke="#1f6fdc" stroke-width="3" stroke-linejoin="round"/>
<text x="783.02" y="1019.6" font-size="58" textLength="47.69" lengthAdjust="spacingAndGlyphs">In</text>
<text x="846.94" y="1019.6" font-size="58" textLength="16.45" lengthAdjust="spacingAndGlyphs">(</text><text x="882.56" y="1019.6" font-size="52" class="se" textLength="29.5" lengthAdjust="spacingAndGlyphs">&#946;</text><text x="910.26" y="1034.8" font-size="34" textLength="24.78" lengthAdjust="spacingAndGlyphs">2</text><text x="939.9" y="1018.6" font-size="53" textLength="32.21" lengthAdjust="spacingAndGlyphs">&#8776;</text><text x="975.62" y="1019.6" font-size="58" textLength="139.63" lengthAdjust="spacingAndGlyphs">0.396</text><text x="1131.69" y="1019.6" font-size="56" class="se" textLength="25.96" lengthAdjust="spacingAndGlyphs">&#947;</text><text x="1163.4" y="1018.6" font-size="53" textLength="32.21" lengthAdjust="spacingAndGlyphs">&#8776;</text><text x="1200.39" y="1019.6" font-size="58" textLength="124.84" lengthAdjust="spacingAndGlyphs">-3.2&#176;</text><text x="1330.11" y="1019.6" font-size="58" textLength="16.45" lengthAdjust="spacingAndGlyphs">)</text>
<path d="M256.55 1096.7L390.65 1096.7" fill="none" stroke="#4d4d4d" stroke-width="4.3" stroke-linecap="round" stroke-linejoin="round"/><circle cx="323.4" cy="1096.7" r="18.3" fill="#fff" stroke="#4d4d4d" stroke-width="3.3"/>
<text x="389.84" y="1117.1" font-size="58" textLength="45.18" lengthAdjust="spacingAndGlyphs">Ix</text>
<path d="M450.55 1096.7L584.65 1096.7" fill="none" stroke="#e64141" stroke-width="4.3" stroke-linecap="round" stroke-linejoin="round"/><circle cx="517.4" cy="1096.7" r="18.3" fill="#fff" stroke="#e64141" stroke-width="3.3"/>
<text x="584.57" y="1117.1" font-size="58" textLength="48.15" lengthAdjust="spacingAndGlyphs">Ip</text>
<path d="M648.95 1096.7L783.05 1096.7" fill="none" stroke="#1f6fdc" stroke-width="4.3" stroke-linecap="round" stroke-linejoin="round"/><circle cx="715.8" cy="1096.7" r="18.3" fill="#fff" stroke="#1f6fdc" stroke-width="3.3"/>
<text x="783.02" y="1117.1" font-size="58" textLength="47.69" lengthAdjust="spacingAndGlyphs">In</text>
<text x="845.24" y="1117.1" font-size="58" textLength="16.45" lengthAdjust="spacingAndGlyphs">(</text><text x="864.86" y="1117.1" font-size="52" class="se" textLength="29.5" lengthAdjust="spacingAndGlyphs">&#946;</text><text x="892.56" y="1132.3" font-size="34" textLength="24.78" lengthAdjust="spacingAndGlyphs">2</text><text x="922.2" y="1116.1" font-size="53" textLength="32.21" lengthAdjust="spacingAndGlyphs">&#8776;</text><text x="957.92" y="1117.1" font-size="58" textLength="139.63" lengthAdjust="spacingAndGlyphs">0.266</text><text x="1113.99" y="1117.1" font-size="56" class="se" textLength="25.96" lengthAdjust="spacingAndGlyphs">&#947;</text><text x="1145.7" y="1116.1" font-size="53" textLength="32.21" lengthAdjust="spacingAndGlyphs">&#8776;</text><text x="1182.68" y="1117.1" font-size="58" textLength="158.27" lengthAdjust="spacingAndGlyphs">-14.9&#176;</text><text x="1345.81" y="1117.1" font-size="58" textLength="16.45" lengthAdjust="spacingAndGlyphs">)</text>
<path d="M254.4 1184.4L391.9 1184.4" fill="none" stroke="#4d4d4d" stroke-width="1.8" stroke-linecap="round" stroke-linejoin="round"/>
<use href="#ball" x="322.9" y="1184.4"/>
<text x="404.21" y="1204" font-size="58" textLength="121.75" lengthAdjust="spacingAndGlyphs">Exp.</text>
</g>
<g id="legend-78Zr">
<path d="M1871.15 1005.6L2005.25 1005.6" fill="none" stroke="#4d4d4d" stroke-width="4.3" stroke-linecap="round" stroke-linejoin="round"/><rect x="1921.8" y="989.4" width="32.4" height="32.4" fill="#fff" stroke="#4d4d4d" stroke-width="3" stroke-linejoin="round"/>
<text x="2004.44" y="1026" font-size="58" textLength="45.18" lengthAdjust="spacingAndGlyphs">Ix</text>
<path d="M2065.15 1005.6L2199.25 1005.6" fill="none" stroke="#e64141" stroke-width="4.3" stroke-linecap="round" stroke-linejoin="round"/><rect x="2115.8" y="989.4" width="32.4" height="32.4" fill="#fff" stroke="#e64141" stroke-width="3" stroke-linejoin="round"/>
<text x="2199.17" y="1026" font-size="58" textLength="48.15" lengthAdjust="spacingAndGlyphs">Ip</text>
<path d="M2263.55 1005.6L2397.65 1005.6" fill="none" stroke="#1f6fdc" stroke-width="4.3" stroke-linecap="round" stroke-linejoin="round"/><rect x="2314.2" y="989.4" width="32.4" height="32.4" fill="#fff" stroke="#1f6fdc" stroke-width="3" stroke-linejoin="round"/>
<text x="2397.62" y="1026" font-size="58" textLength="47.69" lengthAdjust="spacingAndGlyphs">In</text>
<text x="2461.04" y="1026" font-size="58" textLength="16.45" lengthAdjust="spacingAndGlyphs">(</text><text x="2496.66" y="1026" font-size="52" class="se" textLength="29.5" lengthAdjust="spacingAndGlyphs">&#946;</text><text x="2524.36" y="1041.2" font-size="34" textLength="24.78" lengthAdjust="spacingAndGlyphs">2</text><text x="2554" y="1025" font-size="53" textLength="32.21" lengthAdjust="spacingAndGlyphs">&#8776;</text><text x="2589.72" y="1026" font-size="58" textLength="139.52" lengthAdjust="spacingAndGlyphs">0.405</text><text x="2745.79" y="1026" font-size="56" class="se" textLength="25.96" lengthAdjust="spacingAndGlyphs">&#947;</text><text x="2777.5" y="1025" font-size="53" textLength="32.21" lengthAdjust="spacingAndGlyphs">&#8776;</text><text x="2814.42" y="1026" font-size="58" textLength="127.89" lengthAdjust="spacingAndGlyphs">-2.5&#176;</text><text x="2947.11" y="1026" font-size="58" textLength="16.45" lengthAdjust="spacingAndGlyphs">)</text>
<path d="M1871.15 1104.3L2005.25 1104.3" fill="none" stroke="#4d4d4d" stroke-width="4.3" stroke-linecap="round" stroke-linejoin="round"/><circle cx="1938" cy="1104.3" r="18.3" fill="#fff" stroke="#4d4d4d" stroke-width="3.3"/>
<text x="2004.44" y="1124.7" font-size="58" textLength="45.18" lengthAdjust="spacingAndGlyphs">Ix</text>
<path d="M2065.15 1104.3L2199.25 1104.3" fill="none" stroke="#e64141" stroke-width="4.3" stroke-linecap="round" stroke-linejoin="round"/><circle cx="2132" cy="1104.3" r="18.3" fill="#fff" stroke="#e64141" stroke-width="3.3"/>
<text x="2199.17" y="1124.7" font-size="58" textLength="48.15" lengthAdjust="spacingAndGlyphs">Ip</text>
<path d="M2263.55 1104.3L2397.65 1104.3" fill="none" stroke="#1f6fdc" stroke-width="4.3" stroke-linecap="round" stroke-linejoin="round"/><circle cx="2330.4" cy="1104.3" r="18.3" fill="#fff" stroke="#1f6fdc" stroke-width="3.3"/>
<text x="2397.62" y="1124.7" font-size="58" textLength="47.69" lengthAdjust="spacingAndGlyphs">In</text>
<text x="2461.04" y="1124.7" font-size="58" textLength="16.45" lengthAdjust="spacingAndGlyphs">(</text><text x="2480.66" y="1124.7" font-size="52" class="se" textLength="29.5" lengthAdjust="spacingAndGlyphs">&#946;</text><text x="2508.36" y="1139.9" font-size="34" textLength="24.78" lengthAdjust="spacingAndGlyphs">2</text><text x="2538" y="1123.7" font-size="53" textLength="32.21" lengthAdjust="spacingAndGlyphs">&#8776;</text><text x="2573.73" y="1124.7" font-size="58" textLength="138.79" lengthAdjust="spacingAndGlyphs">0.284</text><text x="2729.79" y="1124.7" font-size="56" class="se" textLength="25.96" lengthAdjust="spacingAndGlyphs">&#947;</text><text x="2761.5" y="1123.7" font-size="53" textLength="32.21" lengthAdjust="spacingAndGlyphs">&#8776;</text><text x="2798.51" y="1124.7" font-size="58" textLength="156.4" lengthAdjust="spacingAndGlyphs">-12.6&#176;</text><text x="2959.81" y="1124.7" font-size="58" textLength="16.45" lengthAdjust="spacingAndGlyphs">)</text>
<path d="M1871.15 1202.4L2005.25 1202.4" fill="none" stroke="#4d4d4d" stroke-width="4.3" stroke-linecap="round" stroke-linejoin="round"/><path d="M1938 1177.29L1959.75 1214.96L1916.25 1214.96Z" fill="#fff" stroke="#4d4d4d" stroke-width="3.4" stroke-linejoin="round"/>
<text x="2004.44" y="1222.8" font-size="58" textLength="45.18" lengthAdjust="spacingAndGlyphs">Ix</text>
<path d="M2065.15 1202.4L2199.25 1202.4" fill="none" stroke="#e64141" stroke-width="4.3" stroke-linecap="round" stroke-linejoin="round"/><path d="M2132 1177.29L2153.75 1214.96L2110.25 1214.96Z" fill="#fff" stroke="#e64141" stroke-width="3.4" stroke-linejoin="round"/>
<text x="2199.17" y="1222.8" font-size="58" textLength="48.15" lengthAdjust="spacingAndGlyphs">Ip</text>
<path d="M2263.55 1202.4L2397.65 1202.4" fill="none" stroke="#1f6fdc" stroke-width="4.3" stroke-linecap="round" stroke-linejoin="round"/><path d="M2330.4 1177.29L2352.15 1214.96L2308.65 1214.96Z" fill="#fff" stroke="#1f6fdc" stroke-width="3.4" stroke-linejoin="round"/>
<text x="2397.62" y="1222.8" font-size="58" textLength="47.69" lengthAdjust="spacingAndGlyphs">In</text>
<text x="2461.04" y="1222.8" font-size="58" textLength="16.45" lengthAdjust="spacingAndGlyphs">(</text><text x="2480.66" y="1222.8" font-size="52" class="se" textLength="29.5" lengthAdjust="spacingAndGlyphs">&#946;</text><text x="2508.36" y="1238" font-size="34" textLength="24.78" lengthAdjust="spacingAndGlyphs">2</text><text x="2538" y="1221.8" font-size="53" textLength="32.21" lengthAdjust="spacingAndGlyphs">&#8776;</text><text x="2573.71" y="1222.8" font-size="58" textLength="140" lengthAdjust="spacingAndGlyphs">0.412</text><text x="2729.79" y="1222.8" font-size="56" class="se" textLength="25.96" lengthAdjust="spacingAndGlyphs">&#947;</text><text x="2761.5" y="1221.8" font-size="53" textLength="32.21" lengthAdjust="spacingAndGlyphs">&#8776;</text><text x="2800.7" y="1222.8" font-size="58" textLength="138.54" lengthAdjust="spacingAndGlyphs">12.7&#176;</text><text x="2944.11" y="1222.8" font-size="58" textLength="16.45" lengthAdjust="spacingAndGlyphs">)</text>
</g>
<g id="legend-82Zr">
<path d="M260.05 1904.3L394.15 1904.3" fill="none" stroke="#4d4d4d" stroke-width="4.3" stroke-linecap="round" stroke-linejoin="round"/><rect x="310.7" y="1888.1" width="32.4" height="32.4" fill="#fff" stroke="#4d4d4d" stroke-width="3" stroke-linejoin="round"/>
<text x="393.34" y="1924.7" font-size="58" textLength="45.18" lengthAdjust="spacingAndGlyphs">Ix</text>
<path d="M454.05 1904.3L588.15 1904.3" fill="none" stroke="#e64141" stroke-width="4.3" stroke-linecap="round" stroke-linejoin="round"/><rect x="504.7" y="1888.1" width="32.4" height="32.4" fill="#fff" stroke="#e64141" stroke-width="3" stroke-linejoin="round"/>
<text x="588.07" y="1924.7" font-size="58" textLength="48.15" lengthAdjust="spacingAndGlyphs">Ip</text>
<path d="M652.45 1904.3L786.55 1904.3" fill="none" stroke="#1f6fdc" stroke-width="4.3" stroke-linecap="round" stroke-linejoin="round"/><rect x="703.1" y="1888.1" width="32.4" height="32.4" fill="#fff" stroke="#1f6fdc" stroke-width="3" stroke-linejoin="round"/>
<text x="786.52" y="1924.7" font-size="58" textLength="47.69" lengthAdjust="spacingAndGlyphs">In</text>
<text x="851.04" y="1924.7" font-size="58" textLength="16.45" lengthAdjust="spacingAndGlyphs">(</text><text x="886.66" y="1924.7" font-size="52" class="se" textLength="29.5" lengthAdjust="spacingAndGlyphs">&#946;</text><text x="914.36" y="1939.9" font-size="34" textLength="24.78" lengthAdjust="spacingAndGlyphs">2</text><text x="944" y="1923.7" font-size="53" textLength="32.21" lengthAdjust="spacingAndGlyphs">&#8776;</text><text x="979.73" y="1924.7" font-size="58" textLength="138.79" lengthAdjust="spacingAndGlyphs">0.454</text><text x="1135.79" y="1924.7" font-size="56" class="se" textLength="25.96" lengthAdjust="spacingAndGlyphs">&#947;</text><text x="1167.5" y="1923.7" font-size="53" textLength="32.21" lengthAdjust="spacingAndGlyphs">&#8776;</text><text x="1204.83" y="1924.7" font-size="58" textLength="104.06" lengthAdjust="spacingAndGlyphs">0.4&#176;</text><text x="1313.81" y="1924.7" font-size="58" textLength="16.45" lengthAdjust="spacingAndGlyphs">)</text>
<path d="M260.05 2003L394.15 2003" fill="none" stroke="#4d4d4d" stroke-width="4.3" stroke-linecap="round" stroke-linejoin="round"/><circle cx="326.9" cy="2003" r="18.3" fill="#fff" stroke="#4d4d4d" stroke-width="3.3"/>
<text x="393.34" y="2023.4" font-size="58" textLength="45.18" lengthAdjust="spacingAndGlyphs">Ix</text>
<path d="M454.05 2003L588.15 2003" fill="none" stroke="#e64141" stroke-width="4.3" stroke-linecap="round" stroke-linejoin="round"/><circle cx="520.9" cy="2003" r="18.3" fill="#fff" stroke="#e64141" stroke-width="3.3"/>
<text x="588.07" y="2023.4" font-size="58" textLength="48.15" lengthAdjust="spacingAndGlyphs">Ip</text>
<path d="M652.45 2003L786.55 2003" fill="none" stroke="#1f6fdc" stroke-width="4.3" stroke-linecap="round" stroke-linejoin="round"/><circle cx="719.3" cy="2003" r="18.3" fill="#fff" stroke="#1f6fdc" stroke-width="3.3"/>
<text x="786.52" y="2023.4" font-size="58" textLength="47.69" lengthAdjust="spacingAndGlyphs">In</text>
<text x="851.04" y="2023.4" font-size="58" textLength="16.45" lengthAdjust="spacingAndGlyphs">(</text><text x="870.66" y="2023.4" font-size="52" class="se" textLength="29.5" lengthAdjust="spacingAndGlyphs">&#946;</text><text x="898.36" y="2038.6" font-size="34" textLength="24.78" lengthAdjust="spacingAndGlyphs">2</text><text x="928" y="2022.4" font-size="53" textLength="32.21" lengthAdjust="spacingAndGlyphs">&#8776;</text><text x="963.71" y="2023.4" font-size="58" textLength="140" lengthAdjust="spacingAndGlyphs">0.217</text><text x="1119.79" y="2023.4" font-size="56" class="se" textLength="25.96" lengthAdjust="spacingAndGlyphs">&#947;</text><text x="1151.5" y="2022.4" font-size="53" textLength="32.21" lengthAdjust="spacingAndGlyphs">&#8776;</text><text x="1188.51" y="2023.4" font-size="58" textLength="156.4" lengthAdjust="spacingAndGlyphs">-36.6&#176;</text><text x="1349.81" y="2023.4" font-size="58" textLength="16.45" lengthAdjust="spacingAndGlyphs">)</text>
<path d="M260.05 2100.6L394.15 2100.6" fill="none" stroke="#4d4d4d" stroke-width="4.3" stroke-linecap="round" stroke-linejoin="round"/><path d="M326.9 2075.49L348.65 2113.16L305.15 2113.16Z" fill="#fff" stroke="#4d4d4d" stroke-width="3.4" stroke-linejoin="round"/>
<text x="393.34" y="2121" font-size="58" textLength="45.18" lengthAdjust="spacingAndGlyphs">Ix</text>
<path d="M454.05 2100.6L588.15 2100.6" fill="none" stroke="#e64141" stroke-width="4.3" stroke-linecap="round" stroke-linejoin="round"/><path d="M520.9 2075.49L542.65 2113.16L499.15 2113.16Z" fill="#fff" stroke="#e64141" stroke-width="3.4" stroke-linejoin="round"/>
<text x="588.07" y="2121" font-size="58" textLength="48.15" lengthAdjust="spacingAndGlyphs">Ip</text>
<path d="M652.45 2100.6L786.55 2100.6" fill="none" stroke="#1f6fdc" stroke-width="4.3" stroke-linecap="round" stroke-linejoin="round"/><path d="M719.3 2075.49L741.05 2113.16L697.55 2113.16Z" fill="#fff" stroke="#1f6fdc" stroke-width="3.4" stroke-linejoin="round"/>
<text x="786.52" y="2121" font-size="58" textLength="47.69" lengthAdjust="spacingAndGlyphs">In</text>
<text x="851.04" y="2121" font-size="58" textLength="16.45" lengthAdjust="spacingAndGlyphs">(</text><text x="870.66" y="2121" font-size="52" class="se" textLength="29.5" lengthAdjust="spacingAndGlyphs">&#946;</text><text x="898.36" y="2136.2" font-size="34" textLength="24.78" lengthAdjust="spacingAndGlyphs">2</text><text x="928" y="2120" font-size="53" textLength="32.21" lengthAdjust="spacingAndGlyphs">&#8776;</text><text x="963.72" y="2121" font-size="58" textLength="139.63" lengthAdjust="spacingAndGlyphs">0.123</text><text x="1119.79" y="2121" font-size="56" class="se" textLength="25.96" lengthAdjust="spacingAndGlyphs">&#947;</text><text x="1151.5" y="2120" font-size="53" textLength="32.21" lengthAdjust="spacingAndGlyphs">&#8776;</text><text x="1188.51" y="2121" font-size="58" textLength="156.4" lengthAdjust="spacingAndGlyphs">-52.5&#176;</text><text x="1349.81" y="2121" font-size="58" textLength="16.45" lengthAdjust="spacingAndGlyphs">)</text>
<path d="M257.9 2187.7L395.4 2187.7" fill="none" stroke="#4d4d4d" stroke-width="1.8" stroke-linecap="round" stroke-linejoin="round"/>
<use href="#ball" x="326.4" y="2187.7"/>
<text x="407.71" y="2207.3" font-size="58" textLength="121.75" lengthAdjust="spacingAndGlyphs">Exp.</text>
</g>
<g id="legend-82Mo">
<path d="M1871.15 1922.9L2005.25 1922.9" fill="none" stroke="#4d4d4d" stroke-width="4.3" stroke-linecap="round" stroke-linejoin="round"/><rect x="1921.8" y="1906.7" width="32.4" height="32.4" fill="#fff" stroke="#4d4d4d" stroke-width="3" stroke-linejoin="round"/>
<text x="2004.44" y="1943.3" font-size="58" textLength="45.18" lengthAdjust="spacingAndGlyphs">Ix</text>
<path d="M2065.15 1922.9L2199.25 1922.9" fill="none" stroke="#e64141" stroke-width="4.3" stroke-linecap="round" stroke-linejoin="round"/><rect x="2115.8" y="1906.7" width="32.4" height="32.4" fill="#fff" stroke="#e64141" stroke-width="3" stroke-linejoin="round"/>
<text x="2199.17" y="1943.3" font-size="58" textLength="48.15" lengthAdjust="spacingAndGlyphs">Ip</text>
<path d="M2263.55 1922.9L2397.65 1922.9" fill="none" stroke="#1f6fdc" stroke-width="4.3" stroke-linecap="round" stroke-linejoin="round"/><rect x="2314.2" y="1906.7" width="32.4" height="32.4" fill="#fff" stroke="#1f6fdc" stroke-width="3" stroke-linejoin="round"/>
<text x="2397.62" y="1943.3" font-size="58" textLength="47.69" lengthAdjust="spacingAndGlyphs">In</text>
<text x="2461.04" y="1943.3" font-size="58" textLength="16.45" lengthAdjust="spacingAndGlyphs">(</text><text x="2496.66" y="1943.3" font-size="52" class="se" textLength="29.5" lengthAdjust="spacingAndGlyphs">&#946;</text><text x="2524.36" y="1958.5" font-size="34" textLength="24.78" lengthAdjust="spacingAndGlyphs">2</text><text x="2554" y="1942.3" font-size="53" textLength="32.21" lengthAdjust="spacingAndGlyphs">&#8776;</text><text x="2589.72" y="1943.3" font-size="58" textLength="139.63" lengthAdjust="spacingAndGlyphs">0.466</text><text x="2745.79" y="1943.3" font-size="56" class="se" textLength="25.96" lengthAdjust="spacingAndGlyphs">&#947;</text><text x="2777.5" y="1942.3" font-size="53" textLength="32.21" lengthAdjust="spacingAndGlyphs">&#8776;</text><text x="2815.06" y="1943.3" font-size="58" textLength="93.69" lengthAdjust="spacingAndGlyphs">0.8&#176;</text><text x="2914.01" y="1943.3" font-size="58" textLength="16.45" lengthAdjust="spacingAndGlyphs">)</text>
<path d="M1871.15 2021L2005.25 2021" fill="none" stroke="#4d4d4d" stroke-width="4.3" stroke-linecap="round" stroke-linejoin="round"/><circle cx="1938" cy="2021" r="18.3" fill="#fff" stroke="#4d4d4d" stroke-width="3.3"/>
<text x="2004.44" y="2041.4" font-size="58" textLength="45.18" lengthAdjust="spacingAndGlyphs">Ix</text>
<path d="M2065.15 2021L2199.25 2021" fill="none" stroke="#e64141" stroke-width="4.3" stroke-linecap="round" stroke-linejoin="round"/><circle cx="2132" cy="2021" r="18.3" fill="#fff" stroke="#e64141" stroke-width="3.3"/>
<text x="2199.17" y="2041.4" font-size="58" textLength="48.15" lengthAdjust="spacingAndGlyphs">Ip</text>
<path d="M2263.55 2021L2397.65 2021" fill="none" stroke="#1f6fdc" stroke-width="4.3" stroke-linecap="round" stroke-linejoin="round"/><circle cx="2330.4" cy="2021" r="18.3" fill="#fff" stroke="#1f6fdc" stroke-width="3.3"/>
<text x="2397.62" y="2041.4" font-size="58" textLength="47.69" lengthAdjust="spacingAndGlyphs">In</text>
<text x="2461.04" y="2041.4" font-size="58" textLength="16.45" lengthAdjust="spacingAndGlyphs">(</text><text x="2480.66" y="2041.4" font-size="52" class="se" textLength="29.5" lengthAdjust="spacingAndGlyphs">&#946;</text><text x="2508.36" y="2056.6" font-size="34" textLength="24.78" lengthAdjust="spacingAndGlyphs">2</text><text x="2538" y="2040.4" font-size="53" textLength="32.21" lengthAdjust="spacingAndGlyphs">&#8776;</text><text x="2573.8" y="2041.4" font-size="58" textLength="134.21" lengthAdjust="spacingAndGlyphs">0.231</text><text x="2729.79" y="2041.4" font-size="56" class="se" textLength="25.96" lengthAdjust="spacingAndGlyphs">&#947;</text><text x="2761.5" y="2040.4" font-size="53" textLength="32.21" lengthAdjust="spacingAndGlyphs">&#8776;</text><text x="2798.51" y="2041.4" font-size="58" textLength="156.4" lengthAdjust="spacingAndGlyphs">-35.7&#176;</text><text x="2959.81" y="2041.4" font-size="58" textLength="16.45" lengthAdjust="spacingAndGlyphs">)</text>
<path d="M1871.15 2119.2L2005.25 2119.2" fill="none" stroke="#4d4d4d" stroke-width="4.3" stroke-linecap="round" stroke-linejoin="round"/><path d="M1938 2094.09L1959.75 2131.76L1916.25 2131.76Z" fill="#fff" stroke="#4d4d4d" stroke-width="3.4" stroke-linejoin="round"/>
<text x="2004.44" y="2139.6" font-size="58" textLength="45.18" lengthAdjust="spacingAndGlyphs">Ix</text>
<path d="M2065.15 2119.2L2199.25 2119.2" fill="none" stroke="#e64141" stroke-width="4.3" stroke-linecap="round" stroke-linejoin="round"/><path d="M2132 2094.09L2153.75 2131.76L2110.25 2131.76Z" fill="#fff" stroke="#e64141" stroke-width="3.4" stroke-linejoin="round"/>
<text x="2199.17" y="2139.6" font-size="58" textLength="48.15" lengthAdjust="spacingAndGlyphs">Ip</text>
<path d="M2263.55 2119.2L2397.65 2119.2" fill="none" stroke="#1f6fdc" stroke-width="4.3" stroke-linecap="round" stroke-linejoin="round"/><path d="M2330.4 2094.09L2352.15 2131.76L2308.65 2131.76Z" fill="#fff" stroke="#1f6fdc" stroke-width="3.4" stroke-linejoin="round"/>
<text x="2397.62" y="2139.6" font-size="58" textLength="47.69" lengthAdjust="spacingAndGlyphs">In</text>
<text x="2461.04" y="2139.6" font-size="58" textLength="16.45" lengthAdjust="spacingAndGlyphs">(</text><text x="2480.66" y="2139.6" font-size="52" class="se" textLength="29.5" lengthAdjust="spacingAndGlyphs">&#946;</text><text x="2508.36" y="2154.8" font-size="34" textLength="24.78" lengthAdjust="spacingAndGlyphs">2</text><text x="2538" y="2138.6" font-size="53" textLength="32.21" lengthAdjust="spacingAndGlyphs">&#8776;</text><text x="2573.72" y="2139.6" font-size="58" textLength="139.6" lengthAdjust="spacingAndGlyphs">0.128</text><text x="2729.79" y="2139.6" font-size="56" class="se" textLength="25.96" lengthAdjust="spacingAndGlyphs">&#947;</text><text x="2761.5" y="2138.6" font-size="53" textLength="32.21" lengthAdjust="spacingAndGlyphs">&#8776;</text><text x="2798.51" y="2139.6" font-size="58" textLength="156.4" lengthAdjust="spacingAndGlyphs">-59.0&#176;</text><text x="2959.81" y="2139.6" font-size="58" textLength="16.45" lengthAdjust="spacingAndGlyphs">)</text>
</g>
<g id="axes-74Kr" fill="#000">
<rect x="219.9" y="14.3" width="1539.6" height="916.5" fill="none" stroke="#000" stroke-width="13.5"/>
<path d="M290.38 922.4h13.0v8.4h-13.0zM290.38 14.3h13.0v8.4h-13.0zM367.36 914.3h13.0v16.5h-13.0zM367.36 14.3h13.0v16.5h-13.0zM444.34 922.4h13.0v8.4h-13.0zM444.34 14.3h13.0v8.4h-13.0zM521.32 914.3h13.0v16.5h-13.0zM521.32 14.3h13.0v16.5h-13.0zM598.3 922.4h13.0v8.4h-13.0zM598.3 14.3h13.0v8.4h-13.0zM675.28 914.3h13.0v16.5h-13.0zM675.28 14.3h13.0v16.5h-13.0zM752.26 922.4h13.0v8.4h-13.0zM752.26 14.3h13.0v8.4h-13.0zM829.24 914.3h13.0v16.5h-13.0zM829.24 14.3h13.0v16.5h-13.0zM906.22 922.4h13.0v8.4h-13.0zM906.22 14.3h13.0v8.4h-13.0zM983.2 914.3h13.0v16.5h-13.0zM983.2 14.3h13.0v16.5h-13.0zM1060.18 922.4h13.0v8.4h-13.0zM1060.18 14.3h13.0v8.4h-13.0zM1137.16 914.3h13.0v16.5h-13.0zM1137.16 14.3h13.0v16.5h-13.0zM1214.14 922.4h13.0v8.4h-13.0zM1214.14 14.3h13.0v8.4h-13.0zM1291.12 914.3h13.0v16.5h-13.0zM1291.12 14.3h13.0v16.5h-13.0zM1368.1 922.4h13.0v8.4h-13.0zM1368.1 14.3h13.0v8.4h-13.0zM1445.08 914.3h13.0v16.5h-13.0zM1445.08 14.3h13.0v16.5h-13.0zM1522.06 922.4h13.0v8.4h-13.0zM1522.06 14.3h13.0v8.4h-13.0zM1599.04 914.3h13.0v16.5h-13.0zM1599.04 14.3h13.0v16.5h-13.0zM1676.02 922.4h13.0v8.4h-13.0zM1676.02 14.3h13.0v8.4h-13.0zM219.9 851h8.4v13.0h-8.4zM1751.1 851h8.4v13.0h-8.4zM219.9 777.69h16.5v13.0h-16.5zM1743 777.69h16.5v13.0h-16.5zM219.9 704.39h8.4v13.0h-8.4zM1751.1 704.39h8.4v13.0h-8.4zM219.9 631.08h16.5v13.0h-16.5zM1743 631.08h16.5v13.0h-16.5zM219.9 557.78h8.4v13.0h-8.4zM1751.1 557.78h8.4v13.0h-8.4zM219.9 484.48h16.5v13.0h-16.5zM1743 484.48h16.5v13.0h-16.5zM219.9 411.17h8.4v13.0h-8.4zM1751.1 411.17h8.4v13.0h-8.4zM219.9 337.87h16.5v13.0h-16.5zM1743 337.87h16.5v13.0h-16.5zM219.9 264.56h8.4v13.0h-8.4zM1751.1 264.56h8.4v13.0h-8.4zM219.9 191.26h16.5v13.0h-16.5zM1743 191.26h16.5v13.0h-16.5zM219.9 117.96h8.4v13.0h-8.4zM1751.1 117.96h8.4v13.0h-8.4zM219.9 44.65h16.5v13.0h-16.5zM1743 44.65h16.5v13.0h-16.5z"/>
</g>
<g id="axes-74Sr" fill="#000">
<rect x="1833.1" y="14.3" width="1539.4" height="916.5" fill="none" stroke="#000" stroke-width="13.5"/>
<path d="M1903.57 922.4h13.0v8.4h-13.0zM1903.57 14.3h13.0v8.4h-13.0zM1980.54 914.3h13.0v16.5h-13.0zM1980.54 14.3h13.0v16.5h-13.0zM2057.51 922.4h13.0v8.4h-13.0zM2057.51 14.3h13.0v8.4h-13.0zM2134.48 914.3h13.0v16.5h-13.0zM2134.48 14.3h13.0v16.5h-13.0zM2211.45 922.4h13.0v8.4h-13.0zM2211.45 14.3h13.0v8.4h-13.0zM2288.42 914.3h13.0v16.5h-13.0zM2288.42 14.3h13.0v16.5h-13.0zM2365.39 922.4h13.0v8.4h-13.0zM2365.39 14.3h13.0v8.4h-13.0zM2442.36 914.3h13.0v16.5h-13.0zM2442.36 14.3h13.0v16.5h-13.0zM2519.33 922.4h13.0v8.4h-13.0zM2519.33 14.3h13.0v8.4h-13.0zM2596.3 914.3h13.0v16.5h-13.0zM2596.3 14.3h13.0v16.5h-13.0zM2673.27 922.4h13.0v8.4h-13.0zM2673.27 14.3h13.0v8.4h-13.0zM2750.24 914.3h13.0v16.5h-13.0zM2750.24 14.3h13.0v16.5h-13.0zM2827.21 922.4h13.0v8.4h-13.0zM2827.21 14.3h13.0v8.4h-13.0zM2904.18 914.3h13.0v16.5h-13.0zM2904.18 14.3h13.0v16.5h-13.0zM2981.15 922.4h13.0v8.4h-13.0zM2981.15 14.3h13.0v8.4h-13.0zM3058.12 914.3h13.0v16.5h-13.0zM3058.12 14.3h13.0v16.5h-13.0zM3135.09 922.4h13.0v8.4h-13.0zM3135.09 14.3h13.0v8.4h-13.0zM3212.06 914.3h13.0v16.5h-13.0zM3212.06 14.3h13.0v16.5h-13.0zM3289.03 922.4h13.0v8.4h-13.0zM3289.03 14.3h13.0v8.4h-13.0zM1833.1 851h8.4v13.0h-8.4zM3364.1 851h8.4v13.0h-8.4zM1833.1 777.69h16.5v13.0h-16.5zM3356 777.69h16.5v13.0h-16.5zM1833.1 704.39h8.4v13.0h-8.4zM3364.1 704.39h8.4v13.0h-8.4zM1833.1 631.08h16.5v13.0h-16.5zM3356 631.08h16.5v13.0h-16.5zM1833.1 557.78h8.4v13.0h-8.4zM3364.1 557.78h8.4v13.0h-8.4zM1833.1 484.48h16.5v13.0h-16.5zM3356 484.48h16.5v13.0h-16.5zM1833.1 411.17h8.4v13.0h-8.4zM3364.1 411.17h8.4v13.0h-8.4zM1833.1 337.87h16.5v13.0h-16.5zM3356 337.87h16.5v13.0h-16.5zM1833.1 264.56h8.4v13.0h-8.4zM3364.1 264.56h8.4v13.0h-8.4zM1833.1 191.26h16.5v13.0h-16.5zM3356 191.26h16.5v13.0h-16.5zM1833.1 117.96h8.4v13.0h-8.4zM3364.1 117.96h8.4v13.0h-8.4zM1833.1 44.65h16.5v13.0h-16.5zM3356 44.65h16.5v13.0h-16.5z"/>
</g>
<g id="axes-78Sr" fill="#000">
<rect x="219.9" y="930.8" width="1539.6" height="916.3" fill="none" stroke="#000" stroke-width="13.5"/>
<path d="M290.38 1838.7h13.0v8.4h-13.0zM290.38 930.8h13.0v8.4h-13.0zM367.36 1830.6h13.0v16.5h-13.0zM367.36 930.8h13.0v16.5h-13.0zM444.34 1838.7h13.0v8.4h-13.0zM444.34 930.8h13.0v8.4h-13.0zM521.32 1830.6h13.0v16.5h-13.0zM521.32 930.8h13.0v16.5h-13.0zM598.3 1838.7h13.0v8.4h-13.0zM598.3 930.8h13.0v8.4h-13.0zM675.28 1830.6h13.0v16.5h-13.0zM675.28 930.8h13.0v16.5h-13.0zM752.26 1838.7h13.0v8.4h-13.0zM752.26 930.8h13.0v8.4h-13.0zM829.24 1830.6h13.0v16.5h-13.0zM829.24 930.8h13.0v16.5h-13.0zM906.22 1838.7h13.0v8.4h-13.0zM906.22 930.8h13.0v8.4h-13.0zM983.2 1830.6h13.0v16.5h-13.0zM983.2 930.8h13.0v16.5h-13.0zM1060.18 1838.7h13.0v8.4h-13.0zM1060.18 930.8h13.0v8.4h-13.0zM1137.16 1830.6h13.0v16.5h-13.0zM1137.16 930.8h13.0v16.5h-13.0zM1214.14 1838.7h13.0v8.4h-13.0zM1214.14 930.8h13.0v8.4h-13.0zM1291.12 1830.6h13.0v16.5h-13.0zM1291.12 930.8h13.0v16.5h-13.0zM1368.1 1838.7h13.0v8.4h-13.0zM1368.1 930.8h13.0v8.4h-13.0zM1445.08 1830.6h13.0v16.5h-13.0zM1445.08 930.8h13.0v16.5h-13.0zM1522.06 1838.7h13.0v8.4h-13.0zM1522.06 930.8h13.0v8.4h-13.0zM1599.04 1830.6h13.0v16.5h-13.0zM1599.04 930.8h13.0v16.5h-13.0zM1676.02 1838.7h13.0v8.4h-13.0zM1676.02 930.8h13.0v8.4h-13.0zM219.9 1767.3h8.4v13.0h-8.4zM1751.1 1767.3h8.4v13.0h-8.4zM219.9 1693.99h16.5v13.0h-16.5zM1743 1693.99h16.5v13.0h-16.5zM219.9 1620.69h8.4v13.0h-8.4zM1751.1 1620.69h8.4v13.0h-8.4zM219.9 1547.38h16.5v13.0h-16.5zM1743 1547.38h16.5v13.0h-16.5zM219.9 1474.08h8.4v13.0h-8.4zM1751.1 1474.08h8.4v13.0h-8.4zM219.9 1400.78h16.5v13.0h-16.5zM1743 1400.78h16.5v13.0h-16.5zM219.9 1327.47h8.4v13.0h-8.4zM1751.1 1327.47h8.4v13.0h-8.4zM219.9 1254.17h16.5v13.0h-16.5zM1743 1254.17h16.5v13.0h-16.5zM219.9 1180.86h8.4v13.0h-8.4zM1751.1 1180.86h8.4v13.0h-8.4zM219.9 1107.56h16.5v13.0h-16.5zM1743 1107.56h16.5v13.0h-16.5zM219.9 1034.26h8.4v13.0h-8.4zM1751.1 1034.26h8.4v13.0h-8.4zM219.9 960.95h16.5v13.0h-16.5zM1743 960.95h16.5v13.0h-16.5z"/>
</g>
<g id="axes-78Zr" fill="#000">
<rect x="1833.1" y="930.8" width="1539.4" height="916.3" fill="none" stroke="#000" stroke-width="13.5"/>
<path d="M1903.57 1838.7h13.0v8.4h-13.0zM1903.57 930.8h13.0v8.4h-13.0zM1980.54 1830.6h13.0v16.5h-13.0zM1980.54 930.8h13.0v16.5h-13.0zM2057.51 1838.7h13.0v8.4h-13.0zM2057.51 930.8h13.0v8.4h-13.0zM2134.48 1830.6h13.0v16.5h-13.0zM2134.48 930.8h13.0v16.5h-13.0zM2211.45 1838.7h13.0v8.4h-13.0zM2211.45 930.8h13.0v8.4h-13.0zM2288.42 1830.6h13.0v16.5h-13.0zM2288.42 930.8h13.0v16.5h-13.0zM2365.39 1838.7h13.0v8.4h-13.0zM2365.39 930.8h13.0v8.4h-13.0zM2442.36 1830.6h13.0v16.5h-13.0zM2442.36 930.8h13.0v16.5h-13.0zM2519.33 1838.7h13.0v8.4h-13.0zM2519.33 930.8h13.0v8.4h-13.0zM2596.3 1830.6h13.0v16.5h-13.0zM2596.3 930.8h13.0v16.5h-13.0zM2673.27 1838.7h13.0v8.4h-13.0zM2673.27 930.8h13.0v8.4h-13.0zM2750.24 1830.6h13.0v16.5h-13.0zM2750.24 930.8h13.0v16.5h-13.0zM2827.21 1838.7h13.0v8.4h-13.0zM2827.21 930.8h13.0v8.4h-13.0zM2904.18 1830.6h13.0v16.5h-13.0zM2904.18 930.8h13.0v16.5h-13.0zM2981.15 1838.7h13.0v8.4h-13.0zM2981.15 930.8h13.0v8.4h-13.0zM3058.12 1830.6h13.0v16.5h-13.0zM3058.12 930.8h13.0v16.5h-13.0zM3135.09 1838.7h13.0v8.4h-13.0zM3135.09 930.8h13.0v8.4h-13.0zM3212.06 1830.6h13.0v16.5h-13.0zM3212.06 930.8h13.0v16.5h-13.0zM3289.03 1838.7h13.0v8.4h-13.0zM3289.03 930.8h13.0v8.4h-13.0zM1833.1 1767.3h8.4v13.0h-8.4zM3364.1 1767.3h8.4v13.0h-8.4zM1833.1 1693.99h16.5v13.0h-16.5zM3356 1693.99h16.5v13.0h-16.5zM1833.1 1620.69h8.4v13.0h-8.4zM3364.1 1620.69h8.4v13.0h-8.4zM1833.1 1547.38h16.5v13.0h-16.5zM3356 1547.38h16.5v13.0h-16.5zM1833.1 1474.08h8.4v13.0h-8.4zM3364.1 1474.08h8.4v13.0h-8.4zM1833.1 1400.78h16.5v13.0h-16.5zM3356 1400.78h16.5v13.0h-16.5zM1833.1 1327.47h8.4v13.0h-8.4zM3364.1 1327.47h8.4v13.0h-8.4zM1833.1 1254.17h16.5v13.0h-16.5zM3356 1254.17h16.5v13.0h-16.5zM1833.1 1180.86h8.4v13.0h-8.4zM3364.1 1180.86h8.4v13.0h-8.4zM1833.1 1107.56h16.5v13.0h-16.5zM3356 1107.56h16.5v13.0h-16.5zM1833.1 1034.26h8.4v13.0h-8.4zM3364.1 1034.26h8.4v13.0h-8.4zM1833.1 960.95h16.5v13.0h-16.5zM3356 960.95h16.5v13.0h-16.5z"/>
</g>
<g id="axes-82Zr" fill="#000">
<rect x="219.9" y="1847.1" width="1539.6" height="916.3" fill="none" stroke="#000" stroke-width="13.5"/>
<path d="M290.38 2755h13.0v8.4h-13.0zM290.38 1847.1h13.0v8.4h-13.0zM367.36 2746.9h13.0v16.5h-13.0zM367.36 1847.1h13.0v16.5h-13.0zM444.34 2755h13.0v8.4h-13.0zM444.34 1847.1h13.0v8.4h-13.0zM521.32 2746.9h13.0v16.5h-13.0zM521.32 1847.1h13.0v16.5h-13.0zM598.3 2755h13.0v8.4h-13.0zM598.3 1847.1h13.0v8.4h-13.0zM675.28 2746.9h13.0v16.5h-13.0zM675.28 1847.1h13.0v16.5h-13.0zM752.26 2755h13.0v8.4h-13.0zM752.26 1847.1h13.0v8.4h-13.0zM829.24 2746.9h13.0v16.5h-13.0zM829.24 1847.1h13.0v16.5h-13.0zM906.22 2755h13.0v8.4h-13.0zM906.22 1847.1h13.0v8.4h-13.0zM983.2 2746.9h13.0v16.5h-13.0zM983.2 1847.1h13.0v16.5h-13.0zM1060.18 2755h13.0v8.4h-13.0zM1060.18 1847.1h13.0v8.4h-13.0zM1137.16 2746.9h13.0v16.5h-13.0zM1137.16 1847.1h13.0v16.5h-13.0zM1214.14 2755h13.0v8.4h-13.0zM1214.14 1847.1h13.0v8.4h-13.0zM1291.12 2746.9h13.0v16.5h-13.0zM1291.12 1847.1h13.0v16.5h-13.0zM1368.1 2755h13.0v8.4h-13.0zM1368.1 1847.1h13.0v8.4h-13.0zM1445.08 2746.9h13.0v16.5h-13.0zM1445.08 1847.1h13.0v16.5h-13.0zM1522.06 2755h13.0v8.4h-13.0zM1522.06 1847.1h13.0v8.4h-13.0zM1599.04 2746.9h13.0v16.5h-13.0zM1599.04 1847.1h13.0v16.5h-13.0zM1676.02 2755h13.0v8.4h-13.0zM1676.02 1847.1h13.0v8.4h-13.0zM219.9 2683.6h8.4v13.0h-8.4zM1751.1 2683.6h8.4v13.0h-8.4zM219.9 2610.29h16.5v13.0h-16.5zM1743 2610.29h16.5v13.0h-16.5zM219.9 2536.99h8.4v13.0h-8.4zM1751.1 2536.99h8.4v13.0h-8.4zM219.9 2463.68h16.5v13.0h-16.5zM1743 2463.68h16.5v13.0h-16.5zM219.9 2390.38h8.4v13.0h-8.4zM1751.1 2390.38h8.4v13.0h-8.4zM219.9 2317.08h16.5v13.0h-16.5zM1743 2317.08h16.5v13.0h-16.5zM219.9 2243.77h8.4v13.0h-8.4zM1751.1 2243.77h8.4v13.0h-8.4zM219.9 2170.47h16.5v13.0h-16.5zM1743 2170.47h16.5v13.0h-16.5zM219.9 2097.16h8.4v13.0h-8.4zM1751.1 2097.16h8.4v13.0h-8.4zM219.9 2023.86h16.5v13.0h-16.5zM1743 2023.86h16.5v13.0h-16.5zM219.9 1950.56h8.4v13.0h-8.4zM1751.1 1950.56h8.4v13.0h-8.4zM219.9 1877.25h16.5v13.0h-16.5zM1743 1877.25h16.5v13.0h-16.5z"/>
</g>
<g id="axes-82Mo" fill="#000">
<rect x="1833.1" y="1847.1" width="1539.4" height="916.3" fill="none" stroke="#000" stroke-width="13.5"/>
<path d="M1903.57 2755h13.0v8.4h-13.0zM1903.57 1847.1h13.0v8.4h-13.0zM1980.54 2746.9h13.0v16.5h-13.0zM1980.54 1847.1h13.0v16.5h-13.0zM2057.51 2755h13.0v8.4h-13.0zM2057.51 1847.1h13.0v8.4h-13.0zM2134.48 2746.9h13.0v16.5h-13.0zM2134.48 1847.1h13.0v16.5h-13.0zM2211.45 2755h13.0v8.4h-13.0zM2211.45 1847.1h13.0v8.4h-13.0zM2288.42 2746.9h13.0v16.5h-13.0zM2288.42 1847.1h13.0v16.5h-13.0zM2365.39 2755h13.0v8.4h-13.0zM2365.39 1847.1h13.0v8.4h-13.0zM2442.36 2746.9h13.0v16.5h-13.0zM2442.36 1847.1h13.0v16.5h-13.0zM2519.33 2755h13.0v8.4h-13.0zM2519.33 1847.1h13.0v8.4h-13.0zM2596.3 2746.9h13.0v16.5h-13.0zM2596.3 1847.1h13.0v16.5h-13.0zM2673.27 2755h13.0v8.4h-13.0zM2673.27 1847.1h13.0v8.4h-13.0zM2750.24 2746.9h13.0v16.5h-13.0zM2750.24 1847.1h13.0v16.5h-13.0zM2827.21 2755h13.0v8.4h-13.0zM2827.21 1847.1h13.0v8.4h-13.0zM2904.18 2746.9h13.0v16.5h-13.0zM2904.18 1847.1h13.0v16.5h-13.0zM2981.15 2755h13.0v8.4h-13.0zM2981.15 1847.1h13.0v8.4h-13.0zM3058.12 2746.9h13.0v16.5h-13.0zM3058.12 1847.1h13.0v16.5h-13.0zM3135.09 2755h13.0v8.4h-13.0zM3135.09 1847.1h13.0v8.4h-13.0zM3212.06 2746.9h13.0v16.5h-13.0zM3212.06 1847.1h13.0v16.5h-13.0zM3289.03 2755h13.0v8.4h-13.0zM3289.03 1847.1h13.0v8.4h-13.0zM1833.1 2683.6h8.4v13.0h-8.4zM3364.1 2683.6h8.4v13.0h-8.4zM1833.1 2610.29h16.5v13.0h-16.5zM3356 2610.29h16.5v13.0h-16.5zM1833.1 2536.99h8.4v13.0h-8.4zM3364.1 2536.99h8.4v13.0h-8.4zM1833.1 2463.68h16.5v13.0h-16.5zM3356 2463.68h16.5v13.0h-16.5zM1833.1 2390.38h8.4v13.0h-8.4zM3364.1 2390.38h8.4v13.0h-8.4zM1833.1 2317.08h16.5v13.0h-16.5zM3356 2317.08h16.5v13.0h-16.5zM1833.1 2243.77h8.4v13.0h-8.4zM3364.1 2243.77h8.4v13.0h-8.4zM1833.1 2170.47h16.5v13.0h-16.5zM3356 2170.47h16.5v13.0h-16.5zM1833.1 2097.16h8.4v13.0h-8.4zM3364.1 2097.16h8.4v13.0h-8.4zM1833.1 2023.86h16.5v13.0h-16.5zM3356 2023.86h16.5v13.0h-16.5zM1833.1 1950.56h8.4v13.0h-8.4zM3364.1 1950.56h8.4v13.0h-8.4zM1833.1 1877.25h16.5v13.0h-16.5zM3356 1877.25h16.5v13.0h-16.5z"/>
</g>
<defs><path id="one" d="M763 0L583 0L583 -1098Q518 -1039 412.5 -979Q307 -920 223 -890L223 -1057Q374 -1125 487 -1221Q600 -1318 647 -1409L763 -1409Z" transform="scale(0.03442)"/></defs>
<g id="ticklabels" font-size="70.5">
<g transform="translate(163.46 805.17)"><text x="0" y="0">8</text></g>
<g transform="translate(3385.88 805.17)"><text x="0" y="0">8</text></g>
<g transform="translate(124.25 658.56)"><use href="#one" x="0" y="0"/><text x="39.21" y="0">6</text></g>
<g transform="translate(3385.88 658.56)"><use href="#one" x="0" y="0"/><text x="39.21" y="0">6</text></g>
<g transform="translate(124.25 511.96)"><text x="0" y="0">24</text></g>
<g transform="translate(3385.88 511.96)"><text x="0" y="0">24</text></g>
<g transform="translate(124.25 365.35)"><text x="0" y="0">32</text></g>
<g transform="translate(3385.88 365.35)"><text x="0" y="0">32</text></g>
<g transform="translate(124.25 218.74)"><text x="0" y="0">40</text></g>
<g transform="translate(3385.88 218.74)"><text x="0" y="0">40</text></g>
<g transform="translate(124.25 72.13)"><text x="0" y="0">48</text></g>
<g transform="translate(3385.88 72.13)"><text x="0" y="0">48</text></g>
<g transform="translate(163.46 1721.47)"><text x="0" y="0">8</text></g>
<g transform="translate(3385.88 1721.47)"><text x="0" y="0">8</text></g>
<g transform="translate(124.25 1574.86)"><use href="#one" x="0" y="0"/><text x="39.21" y="0">6</text></g>
<g transform="translate(3385.88 1574.86)"><use href="#one" x="0" y="0"/><text x="39.21" y="0">6</text></g>
<g transform="translate(124.25 1428.26)"><text x="0" y="0">24</text></g>
<g transform="translate(3385.88 1428.26)"><text x="0" y="0">24</text></g>
<g transform="translate(124.25 1281.65)"><text x="0" y="0">32</text></g>
<g transform="translate(3385.88 1281.65)"><text x="0" y="0">32</text></g>
<g transform="translate(124.25 1135.04)"><text x="0" y="0">40</text></g>
<g transform="translate(3385.88 1135.04)"><text x="0" y="0">40</text></g>
<g transform="translate(124.25 988.43)"><text x="0" y="0">48</text></g>
<g transform="translate(3385.88 988.43)"><text x="0" y="0">48</text></g>
<g transform="translate(163.46 2637.77)"><text x="0" y="0">8</text></g>
<g transform="translate(3385.88 2637.77)"><text x="0" y="0">8</text></g>
<g transform="translate(124.25 2491.16)"><use href="#one" x="0" y="0"/><text x="39.21" y="0">6</text></g>
<g transform="translate(3385.88 2491.16)"><use href="#one" x="0" y="0"/><text x="39.21" y="0">6</text></g>
<g transform="translate(124.25 2344.56)"><text x="0" y="0">24</text></g>
<g transform="translate(3385.88 2344.56)"><text x="0" y="0">24</text></g>
<g transform="translate(124.25 2197.95)"><text x="0" y="0">32</text></g>
<g transform="translate(3385.88 2197.95)"><text x="0" y="0">32</text></g>
<g transform="translate(124.25 2051.34)"><text x="0" y="0">40</text></g>
<g transform="translate(3385.88 2051.34)"><text x="0" y="0">40</text></g>
<g transform="translate(124.25 1904.73)"><text x="0" y="0">48</text></g>
<g transform="translate(3385.88 1904.73)"><text x="0" y="0">48</text></g>
<g transform="translate(163.46 2784.38)"><text x="0" y="0">0</text></g>
<g transform="translate(3385.88 2784.38)"><text x="0" y="0">0</text></g>
<g transform="translate(193.9 2839.3) rotate(-45) translate(-49 24.78)"><text x="0" y="0">0.0</text></g>
<g transform="translate(347.86 2839.3) rotate(-45) translate(-49 24.78)"><text x="0" y="0">0.2</text></g>
<g transform="translate(501.82 2839.3) rotate(-45) translate(-49 24.78)"><text x="0" y="0">0.4</text></g>
<g transform="translate(655.78 2839.3) rotate(-45) translate(-49 24.78)"><text x="0" y="0">0.6</text></g>
<g transform="translate(809.74 2839.3) rotate(-45) translate(-49 24.78)"><text x="0" y="0">0.8</text></g>
<g transform="translate(963.7 2839.3) rotate(-45) translate(-49 24.78)"><use href="#one" x="0" y="0"/><text x="39.21" y="0">.0</text></g>
<g transform="translate(1117.66 2839.3) rotate(-45) translate(-49 24.78)"><use href="#one" x="0" y="0"/><text x="39.21" y="0">.2</text></g>
<g transform="translate(1271.62 2839.3) rotate(-45) translate(-49 24.78)"><use href="#one" x="0" y="0"/><text x="39.21" y="0">.4</text></g>
<g transform="translate(1425.58 2839.3) rotate(-45) translate(-49 24.78)"><use href="#one" x="0" y="0"/><text x="39.21" y="0">.6</text></g>
<g transform="translate(1579.54 2839.3) rotate(-45) translate(-49 24.78)"><use href="#one" x="0" y="0"/><text x="39.21" y="0">.8</text></g>
<g transform="translate(1733.5 2839.3) rotate(-45) translate(-49 24.78)"><text x="0" y="0">2.0</text></g>
<g transform="translate(1859.1 2839.3) rotate(45) translate(-49 24.78)"><text x="0" y="0">0.0</text></g>
<g transform="translate(2013.04 2839.3) rotate(45) translate(-49 24.78)"><text x="0" y="0">0.2</text></g>
<g transform="translate(2166.98 2839.3) rotate(45) translate(-49 24.78)"><text x="0" y="0">0.4</text></g>
<g transform="translate(2320.92 2839.3) rotate(45) translate(-49 24.78)"><text x="0" y="0">0.6</text></g>
<g transform="translate(2474.86 2839.3) rotate(45) translate(-49 24.78)"><text x="0" y="0">0.8</text></g>
<g transform="translate(2628.8 2839.3) rotate(45) translate(-49 24.78)"><use href="#one" x="0" y="0"/><text x="39.21" y="0">.0</text></g>
<g transform="translate(2782.74 2839.3) rotate(45) translate(-49 24.78)"><use href="#one" x="0" y="0"/><text x="39.21" y="0">.2</text></g>
<g transform="translate(2936.68 2839.3) rotate(45) translate(-49 24.78)"><use href="#one" x="0" y="0"/><text x="39.21" y="0">.4</text></g>
<g transform="translate(3090.62 2839.3) rotate(45) translate(-49 24.78)"><use href="#one" x="0" y="0"/><text x="39.21" y="0">.6</text></g>
<g transform="translate(3244.56 2839.3) rotate(45) translate(-49 24.78)"><use href="#one" x="0" y="0"/><text x="39.21" y="0">.8</text></g>
<g transform="translate(3398.5 2839.3) rotate(45) translate(-49 24.78)"><text x="0" y="0">2.0</text></g>
</g>
<g id="label-74Kr">
<rect x="1597.3" y="802.2" width="138.8" height="104.8" fill="#000"/>
<rect x="1584.4" y="789.3" width="138.3" height="104.3" fill="#fff" stroke="#000" stroke-width="4.2"/>
<text x="1592.57" y="842.2" font-size="48" textLength="52.83" lengthAdjust="spacingAndGlyphs">74</text>
<text x="1644.76" y="869.8" font-size="70.8" textLength="72.45" lengthAdjust="spacingAndGlyphs">Kr</text>
</g>
<g id="label-74Sr">
<rect x="3209.1" y="799.2" width="139.1" height="104.9" fill="#000"/>
<rect x="3196.2" y="786.3" width="138.6" height="104.4" fill="#fff" stroke="#000" stroke-width="4.2"/>
<text x="3204.37" y="839.2" font-size="48" textLength="52.83" lengthAdjust="spacingAndGlyphs">74</text>
<text x="3258.08" y="866.8" font-size="70.8" textLength="70.9" lengthAdjust="spacingAndGlyphs">Sr</text>
</g>
<g id="label-78Sr">
<rect x="1597.3" y="1716.4" width="138.8" height="105.5" fill="#000"/>
<rect x="1584.4" y="1703.5" width="138.3" height="105" fill="#fff" stroke="#000" stroke-width="4.2"/>
<text x="1592.53" y="1757" font-size="48" textLength="53.56" lengthAdjust="spacingAndGlyphs">78</text>
<text x="1646.28" y="1784" font-size="70.8" textLength="70.9" lengthAdjust="spacingAndGlyphs">Sr</text>
</g>
<g id="label-78Zr">
<rect x="3211.3" y="1715.3" width="134.8" height="105.7" fill="#000"/>
<rect x="3198.4" y="1702.4" width="134.3" height="105.2" fill="#fff" stroke="#000" stroke-width="4.2"/>
<text x="3206.83" y="1756.2" font-size="48" textLength="53.56" lengthAdjust="spacingAndGlyphs">78</text>
<text x="3259.65" y="1783.4" font-size="70.8" textLength="66.93" lengthAdjust="spacingAndGlyphs">Zr</text>
</g>
<g id="label-82Zr">
<rect x="1603.1" y="2634" width="135.3" height="105.1" fill="#000"/>
<rect x="1590.2" y="2621.1" width="134.8" height="104.6" fill="#fff" stroke="#000" stroke-width="4.2"/>
<text x="1598.98" y="2674.6" font-size="48" textLength="54.17" lengthAdjust="spacingAndGlyphs">82</text>
<text x="1651.43" y="2701.8" font-size="70.8" textLength="67.56" lengthAdjust="spacingAndGlyphs">Zr</text>
</g>
<g id="label-82Mo">
<rect x="3186.5" y="2635.2" width="164.7" height="104.9" fill="#000"/>
<rect x="3173.6" y="2622.3" width="164.2" height="104.4" fill="#fff" stroke="#000" stroke-width="4.2"/>
<text x="3182.38" y="2675.6" font-size="48" textLength="54.17" lengthAdjust="spacingAndGlyphs">82</text>
<text x="3235.05" y="2702.7" font-size="70.8" textLength="95.64" lengthAdjust="spacingAndGlyphs">Mo</text>
</g>
<g id="xtitle">
<text x="1654.69" y="2984.5" font-size="122" class="se" font-style="italic" textLength="65.23" lengthAdjust="spacingAndGlyphs">&#295;</text>
<rect x="1688" y="2914.5" width="17" height="5.2"/>
<text x="1718.68" y="2984.5" font-size="86" class="se" textLength="59.34" lengthAdjust="spacingAndGlyphs">&#969;</text>
<text x="1797.97" y="2984.2" font-size="64.4" textLength="19.47" lengthAdjust="spacingAndGlyphs">(</text>
<text x="1819.12" y="2984.5" font-size="85.2" textLength="194.53" lengthAdjust="spacingAndGlyphs">MeV)</text>
</g>
<rect x="19.6" y="1333" width="3.7" height="9"/>
<g id="ytitle" transform="translate(77.9 1392) rotate(-90)">
<text x="-93.31" y="0" font-size="97" textLength="25.02" lengthAdjust="spacingAndGlyphs">I</text>
<text x="-68.41" y="25.4" font-size="63" textLength="31.59" lengthAdjust="spacingAndGlyphs">x</text>
<text x="-10.78" y="-0.3" font-size="94" textLength="27.25" lengthAdjust="spacingAndGlyphs">(</text>
<text x="17.73" y="1.1" font-size="102" class="se" font-style="italic" textLength="53.51" lengthAdjust="spacingAndGlyphs">&#295;</text>
<text x="75.82" y="-0.3" font-size="94" textLength="27.38" lengthAdjust="spacingAndGlyphs">)</text>
</g>
</svg></body></html>
